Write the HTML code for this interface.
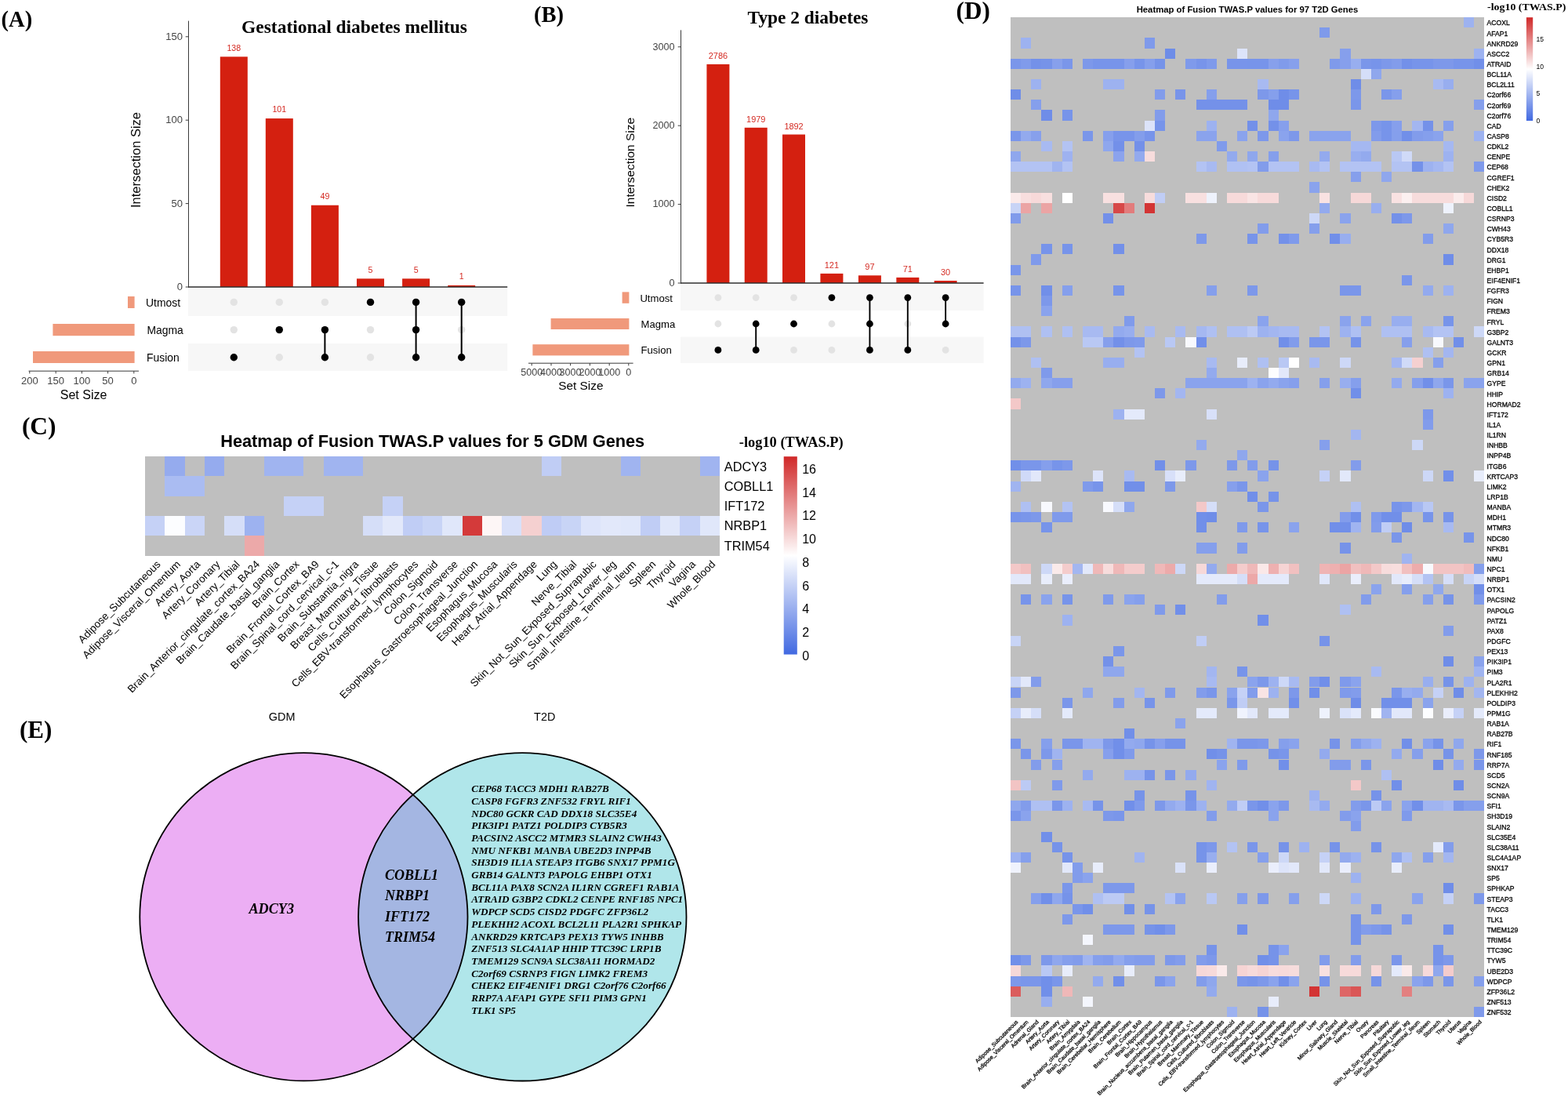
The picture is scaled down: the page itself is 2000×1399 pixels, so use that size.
<!DOCTYPE html>
<html lang="en">
<head>
<meta charset="utf-8">
<title>TWAS overlap of gestational diabetes mellitus and type 2 diabetes genes</title>
<style>
html, body { margin: 0; padding: 0; background: #fff; }
body { width: 2000px; height: 1399px; overflow: hidden; }
svg { display: block; }
.ss { font-family: 'Liberation Sans', sans-serif; }
.sf { font-family: 'Liberation Serif', serif; }
text { white-space: pre; }
</style>
</head>
<body>
<svg width="2000" height="1399" viewBox="0 0 2000 1399" shape-rendering="auto">
<rect x="0" y="0" width="2000" height="1399" fill="#fff"/>
<g id="panelA">
<text x="1.6" y="34" font-size="28.5" class="sf" font-weight="bold">(A)</text>
<text x="452" y="41.6" font-size="23.45" class="sf" font-weight="bold" text-anchor="middle">Gestational diabetes mellitus</text>
<rect x="240.1" y="367.6" width="407.1" height="35.4" fill="#f7f7f7"/>
<rect x="240.1" y="438" width="407.1" height="35.2" fill="#f7f7f7"/>
<rect x="280.8" y="72.34" width="35" height="293.66" fill="#d42010"/>
<text x="298.3" y="64.54" font-size="10.6" class="ss" text-anchor="middle" fill="#d42a22">138</text>
<rect x="338.8" y="151.07" width="35" height="214.93" fill="#d42010"/>
<text x="356.3" y="143.27" font-size="10.6" class="ss" text-anchor="middle" fill="#d42a22">101</text>
<rect x="396.9" y="261.73" width="35" height="104.27" fill="#d42010"/>
<text x="414.4" y="253.93" font-size="10.6" class="ss" text-anchor="middle" fill="#d42a22">49</text>
<rect x="455" y="355.36" width="35" height="10.64" fill="#d42010"/>
<text x="472.5" y="347.56" font-size="10.6" class="ss" text-anchor="middle" fill="#d42a22">5</text>
<rect x="513.1" y="355.36" width="35" height="10.64" fill="#d42010"/>
<text x="530.6" y="347.56" font-size="10.6" class="ss" text-anchor="middle" fill="#d42a22">5</text>
<rect x="571.2" y="363.87" width="35" height="2.13" fill="#d42010"/>
<text x="588.7" y="356.07" font-size="10.6" class="ss" text-anchor="middle" fill="#d42a22">1</text>
<line x1="240.5" y1="26.6" x2="240.5" y2="366.5" stroke="#3a3a3a" stroke-width="1"/>
<line x1="240" y1="366" x2="647.2" y2="366" stroke="#2e2e2e" stroke-width="1.3"/>
<line x1="236.7" y1="366" x2="240.5" y2="366" stroke="#3a3a3a" stroke-width="1"/>
<text x="233" y="370.01" font-size="13" class="ss" text-anchor="end" fill="#444">0</text>
<line x1="236.7" y1="259.6" x2="240.5" y2="259.6" stroke="#3a3a3a" stroke-width="1"/>
<text x="233" y="263.62" font-size="13" class="ss" text-anchor="end" fill="#444">50</text>
<line x1="236.7" y1="153.2" x2="240.5" y2="153.2" stroke="#3a3a3a" stroke-width="1"/>
<text x="233" y="157.22" font-size="13" class="ss" text-anchor="end" fill="#444">100</text>
<line x1="236.7" y1="46.8" x2="240.5" y2="46.8" stroke="#3a3a3a" stroke-width="1"/>
<text x="233" y="50.81" font-size="13" class="ss" text-anchor="end" fill="#444">150</text>
<text x="179.4" y="204" font-size="16.5" class="ss" text-anchor="middle" transform="rotate(-90 179.4 204)">Intersection Size</text>
<circle cx="298.3" cy="385.4" r="4.7" fill="#e3e3e3"/>
<circle cx="298.3" cy="420.6" r="4.7" fill="#e3e3e3"/>
<circle cx="298.3" cy="455.8" r="4.7" fill="#000"/>
<circle cx="356.3" cy="385.4" r="4.7" fill="#e3e3e3"/>
<circle cx="356.3" cy="455.8" r="4.7" fill="#e3e3e3"/>
<circle cx="356.3" cy="420.6" r="4.7" fill="#000"/>
<circle cx="414.4" cy="385.4" r="4.7" fill="#e3e3e3"/>
<line x1="414.4" y1="420.6" x2="414.4" y2="455.8" stroke="#000" stroke-width="2"/>
<circle cx="414.4" cy="420.6" r="4.7" fill="#000"/>
<circle cx="414.4" cy="455.8" r="4.7" fill="#000"/>
<circle cx="472.5" cy="420.6" r="4.7" fill="#e3e3e3"/>
<circle cx="472.5" cy="455.8" r="4.7" fill="#e3e3e3"/>
<circle cx="472.5" cy="385.4" r="4.7" fill="#000"/>
<line x1="530.6" y1="385.4" x2="530.6" y2="455.8" stroke="#000" stroke-width="2"/>
<circle cx="530.6" cy="385.4" r="4.7" fill="#000"/>
<circle cx="530.6" cy="420.6" r="4.7" fill="#000"/>
<circle cx="530.6" cy="455.8" r="4.7" fill="#000"/>
<circle cx="588.7" cy="420.6" r="4.7" fill="#e3e3e3"/>
<line x1="588.7" y1="385.4" x2="588.7" y2="455.8" stroke="#000" stroke-width="2"/>
<circle cx="588.7" cy="385.4" r="4.7" fill="#000"/>
<circle cx="588.7" cy="455.8" r="4.7" fill="#000"/>
<rect x="163" y="378" width="8.6" height="15" fill="#f0997b"/>
<rect x="67.4" y="413" width="104.2" height="15.2" fill="#f0997b"/>
<rect x="42" y="448" width="129.6" height="15" fill="#f0997b"/>
<text x="186" y="390.7" font-size="13.9" class="ss">Utmost</text>
<text x="187.4" y="425.9" font-size="13.9" class="ss">Magma</text>
<text x="187" y="461.1" font-size="13.9" class="ss">Fusion</text>
<line x1="36.6" y1="473.2" x2="177" y2="473.2" stroke="#3a3a3a" stroke-width="1"/>
<line x1="37.8" y1="473.2" x2="37.8" y2="476.4" stroke="#3a3a3a" stroke-width="1"/>
<text x="37.8" y="490.4" font-size="13" class="ss" text-anchor="middle" fill="#444">200</text>
<line x1="71.2" y1="473.2" x2="71.2" y2="476.4" stroke="#3a3a3a" stroke-width="1"/>
<text x="71.2" y="490.4" font-size="13" class="ss" text-anchor="middle" fill="#444">150</text>
<line x1="104.4" y1="473.2" x2="104.4" y2="476.4" stroke="#3a3a3a" stroke-width="1"/>
<text x="104.4" y="490.4" font-size="13" class="ss" text-anchor="middle" fill="#444">100</text>
<line x1="137.6" y1="473.2" x2="137.6" y2="476.4" stroke="#3a3a3a" stroke-width="1"/>
<text x="137.6" y="490.4" font-size="13" class="ss" text-anchor="middle" fill="#444">50</text>
<line x1="170.8" y1="473.2" x2="170.8" y2="476.4" stroke="#3a3a3a" stroke-width="1"/>
<text x="170.8" y="490.4" font-size="13" class="ss" text-anchor="middle" fill="#444">0</text>
<text x="106.6" y="509" font-size="16" class="ss" text-anchor="middle">Set Size</text>
</g>
<g id="panelB">
<text x="681" y="28" font-size="28.6" class="sf" font-weight="bold">(B)</text>
<text x="1030.5" y="30" font-size="23.35" class="sf" font-weight="bold" text-anchor="middle">Type 2 diabetes</text>
<rect x="868.1" y="362.6" width="386.5" height="33.4" fill="#f7f7f7"/>
<rect x="868.1" y="429.6" width="386.5" height="33.6" fill="#f7f7f7"/>
<rect x="901.4" y="81.98" width="29" height="279.02" fill="#d42010"/>
<text x="915.9" y="75.08" font-size="10.9" class="ss" text-anchor="middle" fill="#d42a22">2786</text>
<rect x="949.7" y="162.8" width="29" height="198.2" fill="#d42010"/>
<text x="964.2" y="155.9" font-size="10.9" class="ss" text-anchor="middle" fill="#d42a22">1979</text>
<rect x="998" y="171.52" width="29" height="189.48" fill="#d42010"/>
<text x="1012.5" y="164.62" font-size="10.9" class="ss" text-anchor="middle" fill="#d42a22">1892</text>
<rect x="1046.4" y="348.88" width="29" height="12.12" fill="#d42010"/>
<text x="1060.9" y="341.98" font-size="10.9" class="ss" text-anchor="middle" fill="#d42a22">121</text>
<rect x="1094.9" y="351.29" width="29" height="9.71" fill="#d42010"/>
<text x="1109.4" y="344.39" font-size="10.9" class="ss" text-anchor="middle" fill="#d42a22">97</text>
<rect x="1143.3" y="353.89" width="29" height="7.11" fill="#d42010"/>
<text x="1157.8" y="346.99" font-size="10.9" class="ss" text-anchor="middle" fill="#d42a22">71</text>
<rect x="1191.6" y="358" width="29" height="3" fill="#d42010"/>
<text x="1206.1" y="351.1" font-size="10.9" class="ss" text-anchor="middle" fill="#d42a22">30</text>
<line x1="868.5" y1="38.4" x2="868.5" y2="361.5" stroke="#3a3a3a" stroke-width="1"/>
<line x1="868" y1="361" x2="1254.6" y2="361" stroke="#2e2e2e" stroke-width="1.3"/>
<line x1="864.7" y1="361" x2="868.5" y2="361" stroke="#3a3a3a" stroke-width="1"/>
<text x="860.6" y="364.87" font-size="12.6" class="ss" text-anchor="end" fill="#444">0</text>
<line x1="864.7" y1="260.6" x2="868.5" y2="260.6" stroke="#3a3a3a" stroke-width="1"/>
<text x="860.6" y="264.47" font-size="12.6" class="ss" text-anchor="end" fill="#444">1000</text>
<line x1="864.7" y1="160.2" x2="868.5" y2="160.2" stroke="#3a3a3a" stroke-width="1"/>
<text x="860.6" y="164.07" font-size="12.6" class="ss" text-anchor="end" fill="#444">2000</text>
<line x1="864.7" y1="59.8" x2="868.5" y2="59.8" stroke="#3a3a3a" stroke-width="1"/>
<text x="860.6" y="63.67" font-size="12.6" class="ss" text-anchor="end" fill="#444">3000</text>
<text x="809.3" y="207.2" font-size="15.5" class="ss" text-anchor="middle" transform="rotate(-90 809.3 207.2)">Intersection Size</text>
<circle cx="915.9" cy="379.6" r="4.4" fill="#e3e3e3"/>
<circle cx="915.9" cy="413" r="4.4" fill="#e3e3e3"/>
<circle cx="915.9" cy="446.4" r="4.4" fill="#000"/>
<circle cx="964.2" cy="379.6" r="4.4" fill="#e3e3e3"/>
<line x1="964.2" y1="413" x2="964.2" y2="446.4" stroke="#000" stroke-width="1.9"/>
<circle cx="964.2" cy="413" r="4.4" fill="#000"/>
<circle cx="964.2" cy="446.4" r="4.4" fill="#000"/>
<circle cx="1012.5" cy="379.6" r="4.4" fill="#e3e3e3"/>
<circle cx="1012.5" cy="446.4" r="4.4" fill="#e3e3e3"/>
<circle cx="1012.5" cy="413" r="4.4" fill="#000"/>
<circle cx="1060.9" cy="413" r="4.4" fill="#e3e3e3"/>
<circle cx="1060.9" cy="446.4" r="4.4" fill="#e3e3e3"/>
<circle cx="1060.9" cy="379.6" r="4.4" fill="#000"/>
<line x1="1109.4" y1="379.6" x2="1109.4" y2="446.4" stroke="#000" stroke-width="1.9"/>
<circle cx="1109.4" cy="379.6" r="4.4" fill="#000"/>
<circle cx="1109.4" cy="413" r="4.4" fill="#000"/>
<circle cx="1109.4" cy="446.4" r="4.4" fill="#000"/>
<circle cx="1157.8" cy="413" r="4.4" fill="#e3e3e3"/>
<line x1="1157.8" y1="379.6" x2="1157.8" y2="446.4" stroke="#000" stroke-width="1.9"/>
<circle cx="1157.8" cy="379.6" r="4.4" fill="#000"/>
<circle cx="1157.8" cy="446.4" r="4.4" fill="#000"/>
<circle cx="1206.1" cy="446.4" r="4.4" fill="#e3e3e3"/>
<line x1="1206.1" y1="379.6" x2="1206.1" y2="413" stroke="#000" stroke-width="1.9"/>
<circle cx="1206.1" cy="379.6" r="4.4" fill="#000"/>
<circle cx="1206.1" cy="413" r="4.4" fill="#000"/>
<rect x="793.6" y="372.4" width="8.8" height="14.4" fill="#f0997b"/>
<rect x="702.6" y="406" width="99.8" height="14" fill="#f0997b"/>
<rect x="679.4" y="439.2" width="123" height="14.2" fill="#f0997b"/>
<text x="816.4" y="384.6" font-size="13.1" class="ss">Utmost</text>
<text x="817.6" y="418" font-size="13.1" class="ss">Magma</text>
<text x="817.4" y="451.4" font-size="13.1" class="ss">Fusion</text>
<line x1="674" y1="463.2" x2="807.6" y2="463.2" stroke="#3a3a3a" stroke-width="1"/>
<line x1="678.2" y1="463.2" x2="678.2" y2="466.4" stroke="#3a3a3a" stroke-width="1"/>
<text x="678.2" y="479.1" font-size="12.6" class="ss" text-anchor="middle" fill="#444">5000</text>
<line x1="703" y1="463.2" x2="703" y2="466.4" stroke="#3a3a3a" stroke-width="1"/>
<text x="703" y="479.1" font-size="12.6" class="ss" text-anchor="middle" fill="#444">4000</text>
<line x1="727.6" y1="463.2" x2="727.6" y2="466.4" stroke="#3a3a3a" stroke-width="1"/>
<text x="727.6" y="479.1" font-size="12.6" class="ss" text-anchor="middle" fill="#444">3000</text>
<line x1="752.4" y1="463.2" x2="752.4" y2="466.4" stroke="#3a3a3a" stroke-width="1"/>
<text x="752.4" y="479.1" font-size="12.6" class="ss" text-anchor="middle" fill="#444">2000</text>
<line x1="777.2" y1="463.2" x2="777.2" y2="466.4" stroke="#3a3a3a" stroke-width="1"/>
<text x="777.2" y="479.1" font-size="12.6" class="ss" text-anchor="middle" fill="#444">1000</text>
<line x1="801.8" y1="463.2" x2="801.8" y2="466.4" stroke="#3a3a3a" stroke-width="1"/>
<text x="801.8" y="479.1" font-size="12.6" class="ss" text-anchor="middle" fill="#444">0</text>
<text x="740.8" y="496.9" font-size="15.4" class="ss" text-anchor="middle">Set Size</text>
</g>
<g id="panelC">
<text x="27.9" y="553.8" font-size="31.4" class="sf" font-weight="bold">(C)</text>
<text x="551.7" y="570.4" font-size="21.76" class="ss" font-weight="bold" text-anchor="middle">Heatmap of Fusion TWAS.P values for 5 GDM Genes</text>
<g shape-rendering="crispEdges">
<rect x="185.2" y="582.2" width="732.83" height="126.3" fill="#bfbfbf"/>
<rect x="210.47" y="582.2" width="25.27" height="25.26" fill="#95abee"/>
<rect x="261.01" y="582.2" width="25.27" height="25.26" fill="#95abee"/>
<rect x="336.82" y="582.2" width="50.54" height="25.26" fill="#a0b4f0"/>
<rect x="412.63" y="582.2" width="50.54" height="25.26" fill="#a0b4f0"/>
<rect x="690.6" y="582.2" width="25.27" height="25.26" fill="#c0cdf5"/>
<rect x="791.68" y="582.2" width="25.27" height="25.26" fill="#a0b4f0"/>
<rect x="892.76" y="582.2" width="25.27" height="25.26" fill="#a0b4f0"/>
<rect x="210.47" y="607.46" width="50.54" height="25.26" fill="#aabcf2"/>
<rect x="362.09" y="632.72" width="50.54" height="25.26" fill="#c5d1f6"/>
<rect x="488.44" y="632.72" width="25.27" height="25.26" fill="#c5d1f6"/>
<rect x="185.2" y="657.98" width="25.27" height="25.26" fill="#c5d1f6"/>
<rect x="210.47" y="657.98" width="25.27" height="25.26" fill="#fcfdff"/>
<rect x="235.74" y="657.98" width="25.27" height="25.26" fill="#cad5f7"/>
<rect x="286.28" y="657.98" width="25.27" height="25.26" fill="#d5def8"/>
<rect x="311.55" y="657.98" width="25.27" height="25.26" fill="#9db2f0"/>
<rect x="463.17" y="657.98" width="25.27" height="25.26" fill="#d5def8"/>
<rect x="488.44" y="657.98" width="25.27" height="25.26" fill="#e2e8fa"/>
<rect x="513.71" y="657.98" width="25.27" height="25.26" fill="#c0cdf5"/>
<rect x="538.98" y="657.98" width="25.27" height="25.26" fill="#c8d4f6"/>
<rect x="564.25" y="657.98" width="25.27" height="25.26" fill="#e0e7fa"/>
<rect x="589.52" y="657.98" width="25.27" height="25.26" fill="#d43a3a"/>
<rect x="614.79" y="657.98" width="25.27" height="25.26" fill="#fdf6f6"/>
<rect x="640.06" y="657.98" width="25.27" height="25.26" fill="#d8e0f9"/>
<rect x="665.33" y="657.98" width="25.27" height="25.26" fill="#f5d0d0"/>
<rect x="690.6" y="657.98" width="25.27" height="25.26" fill="#bfccf5"/>
<rect x="715.87" y="657.98" width="25.27" height="25.26" fill="#c8d4f6"/>
<rect x="741.14" y="657.98" width="25.27" height="25.26" fill="#dde4fa"/>
<rect x="766.41" y="657.98" width="25.27" height="25.26" fill="#e2e8fa"/>
<rect x="791.68" y="657.98" width="25.27" height="25.26" fill="#e0e7fa"/>
<rect x="816.95" y="657.98" width="25.27" height="25.26" fill="#c0cdf5"/>
<rect x="842.22" y="657.98" width="25.27" height="25.26" fill="#e0e7fa"/>
<rect x="867.49" y="657.98" width="25.27" height="25.26" fill="#c5d1f6"/>
<rect x="892.76" y="657.98" width="25.27" height="25.26" fill="#e0e7fa"/>
<rect x="311.55" y="683.24" width="25.27" height="25.26" fill="#eca9a9"/>
</g>
<text x="923.8" y="600.62" font-size="16.3" class="ss">ADCY3</text>
<text x="923.8" y="625.88" font-size="16.3" class="ss">COBLL1</text>
<text x="923.8" y="651.14" font-size="16.3" class="ss">IFT172</text>
<text x="923.8" y="676.4" font-size="16.3" class="ss">NRBP1</text>
<text x="923.8" y="701.66" font-size="16.3" class="ss">TRIM54</text>
<text x="205.63" y="720.5" font-size="13.45" class="ss" text-anchor="end" transform="rotate(-45 205.63 720.5)">Adipose_Subcutaneous</text>
<text x="230.91" y="720.5" font-size="13.45" class="ss" text-anchor="end" transform="rotate(-45 230.91 720.5)">Adipose_Visceral_Omentum</text>
<text x="256.18" y="720.5" font-size="13.45" class="ss" text-anchor="end" transform="rotate(-45 256.18 720.5)">Artery_Aorta</text>
<text x="281.44" y="720.5" font-size="13.45" class="ss" text-anchor="end" transform="rotate(-45 281.44 720.5)">Artery_Coronary</text>
<text x="306.71" y="720.5" font-size="13.45" class="ss" text-anchor="end" transform="rotate(-45 306.71 720.5)">Artery_Tibial</text>
<text x="331.98" y="720.5" font-size="13.45" class="ss" text-anchor="end" transform="rotate(-45 331.98 720.5)">Brain_Anterior_cingulate_cortex_BA24</text>
<text x="357.25" y="720.5" font-size="13.45" class="ss" text-anchor="end" transform="rotate(-45 357.25 720.5)">Brain_Caudate_basal_ganglia</text>
<text x="382.53" y="720.5" font-size="13.45" class="ss" text-anchor="end" transform="rotate(-45 382.53 720.5)">Brain_Cortex</text>
<text x="407.8" y="720.5" font-size="13.45" class="ss" text-anchor="end" transform="rotate(-45 407.8 720.5)">Brain_Frontal_Cortex_BA9</text>
<text x="433.06" y="720.5" font-size="13.45" class="ss" text-anchor="end" transform="rotate(-45 433.06 720.5)">Brain_Spinal_cord_cervical_c-1</text>
<text x="458.33" y="720.5" font-size="13.45" class="ss" text-anchor="end" transform="rotate(-45 458.33 720.5)">Brain_Substantia_nigra</text>
<text x="483.61" y="720.5" font-size="13.45" class="ss" text-anchor="end" transform="rotate(-45 483.61 720.5)">Breast_Mammary_Tissue</text>
<text x="508.88" y="720.5" font-size="13.45" class="ss" text-anchor="end" transform="rotate(-45 508.88 720.5)">Cells_Cultured_fibroblasts</text>
<text x="534.14" y="720.5" font-size="13.45" class="ss" text-anchor="end" transform="rotate(-45 534.14 720.5)">Cells_EBV-transformed_lymphocytes</text>
<text x="559.41" y="720.5" font-size="13.45" class="ss" text-anchor="end" transform="rotate(-45 559.41 720.5)">Colon_Sigmoid</text>
<text x="584.68" y="720.5" font-size="13.45" class="ss" text-anchor="end" transform="rotate(-45 584.68 720.5)">Colon_Transverse</text>
<text x="609.95" y="720.5" font-size="13.45" class="ss" text-anchor="end" transform="rotate(-45 609.95 720.5)">Esophagus_Gastroesophageal_Junction</text>
<text x="635.22" y="720.5" font-size="13.45" class="ss" text-anchor="end" transform="rotate(-45 635.22 720.5)">Esophagus_Mucosa</text>
<text x="660.49" y="720.5" font-size="13.45" class="ss" text-anchor="end" transform="rotate(-45 660.49 720.5)">Esophagus_Muscularis</text>
<text x="685.76" y="720.5" font-size="13.45" class="ss" text-anchor="end" transform="rotate(-45 685.76 720.5)">Heart_Atrial_Appendage</text>
<text x="711.03" y="720.5" font-size="13.45" class="ss" text-anchor="end" transform="rotate(-45 711.03 720.5)">Lung</text>
<text x="736.3" y="720.5" font-size="13.45" class="ss" text-anchor="end" transform="rotate(-45 736.3 720.5)">Nerve_Tibial</text>
<text x="761.58" y="720.5" font-size="13.45" class="ss" text-anchor="end" transform="rotate(-45 761.58 720.5)">Skin_Not_Sun_Exposed_Suprapubic</text>
<text x="786.85" y="720.5" font-size="13.45" class="ss" text-anchor="end" transform="rotate(-45 786.85 720.5)">Skin_Sun_Exposed_Lower_leg</text>
<text x="812.12" y="720.5" font-size="13.45" class="ss" text-anchor="end" transform="rotate(-45 812.12 720.5)">Small_Intestine_Terminal_Ileum</text>
<text x="837.38" y="720.5" font-size="13.45" class="ss" text-anchor="end" transform="rotate(-45 837.38 720.5)">Spleen</text>
<text x="862.65" y="720.5" font-size="13.45" class="ss" text-anchor="end" transform="rotate(-45 862.65 720.5)">Thyroid</text>
<text x="887.92" y="720.5" font-size="13.45" class="ss" text-anchor="end" transform="rotate(-45 887.92 720.5)">Vagina</text>
<text x="913.19" y="720.5" font-size="13.45" class="ss" text-anchor="end" transform="rotate(-45 913.19 720.5)">Whole_Blood</text>
<text x="942.8" y="570.4" font-size="18.4" class="sf" font-weight="bold">-log10 (TWAS.P)</text>
<defs><linearGradient id="gC" x1="0" y1="0" x2="0" y2="1"><stop offset="0" stop-color="#d02828"/><stop offset="0.5" stop-color="#fff"/><stop offset="1" stop-color="#4169e1"/></linearGradient></defs>
<rect x="999.7" y="582.2" width="17.1" height="252.4" fill="url(#gC)"/>
<text x="1023.2" y="841.58" font-size="16" class="ss">0</text>
<text x="1023.2" y="811.89" font-size="16" class="ss">2</text>
<text x="1023.2" y="782.19" font-size="16" class="ss">4</text>
<text x="1023.2" y="752.5" font-size="16" class="ss">6</text>
<text x="1023.2" y="722.8" font-size="16" class="ss">8</text>
<text x="1023.2" y="693.11" font-size="16" class="ss">10</text>
<text x="1023.2" y="663.42" font-size="16" class="ss">12</text>
<text x="1023.2" y="633.72" font-size="16" class="ss">14</text>
<text x="1023.2" y="604.03" font-size="16" class="ss">16</text>
</g>
<g id="panelD">
<text x="1219.6" y="24" font-size="31.2" class="sf" font-weight="bold">(D)</text>
<text x="1591" y="16" font-size="11.32" class="ss" font-weight="bold" text-anchor="middle">Heatmap of Fusion TWAS.P values for 97 T2D Genes</text>
<g shape-rendering="crispEdges">
<rect x="1289" y="22.2" width="604.44" height="1274.87" fill="#bfbfbf"/>
<rect x="1867.16" y="22.2" width="13.14" height="13.14" fill="#9db2f0"/>
<rect x="1683.2" y="35.34" width="13.14" height="13.14" fill="#7f9aeb"/>
<rect x="1302.14" y="48.49" width="13.14" height="13.14" fill="#9db2f0"/>
<rect x="1459.82" y="48.49" width="13.14" height="13.14" fill="#7f9aeb"/>
<rect x="1486.1" y="61.63" width="13.14" height="13.14" fill="#6e8de8"/>
<rect x="1578.08" y="61.63" width="13.14" height="13.14" fill="#dde4fa"/>
<rect x="1709.48" y="61.63" width="13.14" height="13.14" fill="#869fec"/>
<rect x="1880.3" y="61.63" width="13.14" height="13.14" fill="#9db2f0"/>
<rect x="1289" y="74.77" width="13.14" height="13.14" fill="#7a96ea"/>
<rect x="1302.14" y="74.77" width="13.14" height="13.14" fill="#809beb"/>
<rect x="1315.28" y="74.77" width="13.14" height="13.14" fill="#7491e9"/>
<rect x="1328.42" y="74.77" width="13.14" height="13.14" fill="#7693e9"/>
<rect x="1341.56" y="74.77" width="13.14" height="13.14" fill="#87a0ec"/>
<rect x="1354.7" y="74.77" width="13.14" height="13.14" fill="#7a96ea"/>
<rect x="1380.98" y="74.77" width="13.14" height="13.14" fill="#7d98ea"/>
<rect x="1394.12" y="74.77" width="39.42" height="13.14" fill="#7794ea"/>
<rect x="1433.54" y="74.77" width="13.14" height="13.14" fill="#869fec"/>
<rect x="1446.68" y="74.77" width="13.14" height="13.14" fill="#7794ea"/>
<rect x="1459.82" y="74.77" width="13.14" height="13.14" fill="#859fec"/>
<rect x="1472.96" y="74.77" width="13.14" height="13.14" fill="#7693e9"/>
<rect x="1512.38" y="74.77" width="13.14" height="13.14" fill="#7f9aeb"/>
<rect x="1525.52" y="74.77" width="13.14" height="13.14" fill="#7894ea"/>
<rect x="1538.66" y="74.77" width="13.14" height="13.14" fill="#7f9aeb"/>
<rect x="1564.94" y="74.77" width="26.28" height="13.14" fill="#7894ea"/>
<rect x="1591.22" y="74.77" width="26.28" height="13.14" fill="#7794ea"/>
<rect x="1617.5" y="74.77" width="13.14" height="13.14" fill="#87a0ec"/>
<rect x="1630.64" y="74.77" width="13.14" height="13.14" fill="#809beb"/>
<rect x="1643.78" y="74.77" width="13.14" height="13.14" fill="#87a0ec"/>
<rect x="1696.34" y="74.77" width="13.14" height="13.14" fill="#7f9aeb"/>
<rect x="1709.48" y="74.77" width="13.14" height="13.14" fill="#869fec"/>
<rect x="1722.62" y="74.77" width="13.14" height="13.14" fill="#98aeef"/>
<rect x="1735.76" y="74.77" width="13.14" height="13.14" fill="#7a96ea"/>
<rect x="1748.9" y="74.77" width="13.14" height="13.14" fill="#7794ea"/>
<rect x="1762.04" y="74.77" width="13.14" height="13.14" fill="#7d98ea"/>
<rect x="1775.18" y="74.77" width="13.14" height="13.14" fill="#829ceb"/>
<rect x="1788.32" y="74.77" width="13.14" height="13.14" fill="#7390e9"/>
<rect x="1801.46" y="74.77" width="26.28" height="13.14" fill="#7794ea"/>
<rect x="1827.74" y="74.77" width="26.28" height="13.14" fill="#7d98ea"/>
<rect x="1854.02" y="74.77" width="26.28" height="13.14" fill="#7794ea"/>
<rect x="1880.3" y="74.77" width="13.14" height="13.14" fill="#718fe9"/>
<rect x="1735.76" y="87.92" width="13.14" height="13.14" fill="#d5def8"/>
<rect x="1748.9" y="87.92" width="13.14" height="13.14" fill="#8fa7ed"/>
<rect x="1315.28" y="101.06" width="13.14" height="13.14" fill="#9db2f0"/>
<rect x="1407.26" y="101.06" width="26.28" height="13.14" fill="#9db2f0"/>
<rect x="1604.36" y="101.06" width="13.14" height="13.14" fill="#a8baf1"/>
<rect x="1722.62" y="101.06" width="13.14" height="13.14" fill="#6f8de8"/>
<rect x="1827.74" y="101.06" width="13.14" height="13.14" fill="#a8baf1"/>
<rect x="1840.88" y="101.06" width="13.14" height="13.14" fill="#98aeef"/>
<rect x="1289" y="114.2" width="13.14" height="13.14" fill="#6f8de8"/>
<rect x="1472.96" y="114.2" width="13.14" height="13.14" fill="#829ceb"/>
<rect x="1499.24" y="114.2" width="13.14" height="13.14" fill="#7894ea"/>
<rect x="1538.66" y="114.2" width="13.14" height="13.14" fill="#859fec"/>
<rect x="1604.36" y="114.2" width="13.14" height="13.14" fill="#7d98ea"/>
<rect x="1617.5" y="114.2" width="13.14" height="13.14" fill="#859fec"/>
<rect x="1630.64" y="114.2" width="13.14" height="13.14" fill="#6f8de8"/>
<rect x="1643.78" y="114.2" width="13.14" height="13.14" fill="#7794ea"/>
<rect x="1722.62" y="114.2" width="13.14" height="13.14" fill="#7d98ea"/>
<rect x="1762.04" y="114.2" width="13.14" height="13.14" fill="#7a96ea"/>
<rect x="1775.18" y="114.2" width="13.14" height="13.14" fill="#859fec"/>
<rect x="1315.28" y="127.34" width="13.14" height="13.14" fill="#859fec"/>
<rect x="1525.52" y="127.34" width="65.7" height="13.14" fill="#7491e9"/>
<rect x="1617.5" y="127.34" width="26.28" height="13.14" fill="#6f8de8"/>
<rect x="1722.62" y="127.34" width="13.14" height="13.14" fill="#7a96ea"/>
<rect x="1880.3" y="127.34" width="13.14" height="13.14" fill="#859fec"/>
<rect x="1328.42" y="140.49" width="13.14" height="13.14" fill="#6f8de8"/>
<rect x="1354.7" y="140.49" width="13.14" height="13.14" fill="#7794ea"/>
<rect x="1472.96" y="140.49" width="13.14" height="13.14" fill="#829ceb"/>
<rect x="1617.5" y="140.49" width="13.14" height="13.14" fill="#8fa7ed"/>
<rect x="1459.82" y="153.63" width="13.14" height="13.14" fill="#dce3f9"/>
<rect x="1472.96" y="153.63" width="13.14" height="13.14" fill="#7794ea"/>
<rect x="1538.66" y="153.63" width="13.14" height="13.14" fill="#9db2f0"/>
<rect x="1591.22" y="153.63" width="13.14" height="13.14" fill="#7390e9"/>
<rect x="1617.5" y="153.63" width="13.14" height="13.14" fill="#7491e9"/>
<rect x="1630.64" y="153.63" width="13.14" height="13.14" fill="#869fec"/>
<rect x="1748.9" y="153.63" width="13.14" height="13.14" fill="#7d98ea"/>
<rect x="1762.04" y="153.63" width="13.14" height="13.14" fill="#7794ea"/>
<rect x="1775.18" y="153.63" width="13.14" height="13.14" fill="#869fec"/>
<rect x="1801.46" y="153.63" width="13.14" height="13.14" fill="#a3b6f0"/>
<rect x="1814.6" y="153.63" width="13.14" height="13.14" fill="#7491e9"/>
<rect x="1840.88" y="153.63" width="13.14" height="13.14" fill="#859fec"/>
<rect x="1289" y="166.77" width="13.14" height="13.14" fill="#7a96ea"/>
<rect x="1302.14" y="166.77" width="13.14" height="13.14" fill="#93aaee"/>
<rect x="1315.28" y="166.77" width="13.14" height="13.14" fill="#87a0ec"/>
<rect x="1380.98" y="166.77" width="13.14" height="13.14" fill="#7a96ea"/>
<rect x="1407.26" y="166.77" width="13.14" height="13.14" fill="#869fec"/>
<rect x="1420.4" y="166.77" width="26.28" height="13.14" fill="#7894ea"/>
<rect x="1446.68" y="166.77" width="13.14" height="13.14" fill="#839deb"/>
<rect x="1459.82" y="166.77" width="13.14" height="13.14" fill="#7894ea"/>
<rect x="1525.52" y="166.77" width="26.28" height="13.14" fill="#8aa3ed"/>
<rect x="1578.08" y="166.77" width="13.14" height="13.14" fill="#8aa3ed"/>
<rect x="1604.36" y="166.77" width="13.14" height="13.14" fill="#7d98ea"/>
<rect x="1630.64" y="166.77" width="13.14" height="13.14" fill="#8aa3ed"/>
<rect x="1643.78" y="166.77" width="13.14" height="13.14" fill="#7d98ea"/>
<rect x="1670.06" y="166.77" width="52.56" height="13.14" fill="#8aa3ed"/>
<rect x="1748.9" y="166.77" width="13.14" height="13.14" fill="#829ceb"/>
<rect x="1762.04" y="166.77" width="13.14" height="13.14" fill="#7794ea"/>
<rect x="1775.18" y="166.77" width="13.14" height="13.14" fill="#859fec"/>
<rect x="1788.32" y="166.77" width="13.14" height="13.14" fill="#718fe9"/>
<rect x="1801.46" y="166.77" width="13.14" height="13.14" fill="#829ceb"/>
<rect x="1814.6" y="166.77" width="13.14" height="13.14" fill="#859fec"/>
<rect x="1827.74" y="166.77" width="13.14" height="13.14" fill="#8aa3ed"/>
<rect x="1880.3" y="166.77" width="13.14" height="13.14" fill="#9db2f0"/>
<rect x="1328.42" y="179.92" width="13.14" height="13.14" fill="#a8baf1"/>
<rect x="1354.7" y="179.92" width="13.14" height="13.14" fill="#b3c3f3"/>
<rect x="1407.26" y="179.92" width="13.14" height="13.14" fill="#8fa7ed"/>
<rect x="1420.4" y="179.92" width="13.14" height="13.14" fill="#7390e9"/>
<rect x="1446.68" y="179.92" width="13.14" height="13.14" fill="#7390e9"/>
<rect x="1551.8" y="179.92" width="13.14" height="13.14" fill="#809beb"/>
<rect x="1722.62" y="179.92" width="26.28" height="13.14" fill="#a5b8f1"/>
<rect x="1840.88" y="179.92" width="13.14" height="13.14" fill="#a5b8f1"/>
<rect x="1289" y="193.06" width="13.14" height="13.14" fill="#8fa7ed"/>
<rect x="1354.7" y="193.06" width="13.14" height="13.14" fill="#9eb2f0"/>
<rect x="1420.4" y="193.06" width="13.14" height="13.14" fill="#8ba3ed"/>
<rect x="1446.68" y="193.06" width="13.14" height="13.14" fill="#93aaee"/>
<rect x="1459.82" y="193.06" width="13.14" height="13.14" fill="#f7dcdc"/>
<rect x="1564.94" y="193.06" width="13.14" height="13.14" fill="#93aaee"/>
<rect x="1591.22" y="193.06" width="13.14" height="13.14" fill="#8fa7ed"/>
<rect x="1617.5" y="193.06" width="13.14" height="13.14" fill="#859fec"/>
<rect x="1683.2" y="193.06" width="13.14" height="13.14" fill="#93aaee"/>
<rect x="1722.62" y="193.06" width="13.14" height="13.14" fill="#98aeef"/>
<rect x="1735.76" y="193.06" width="13.14" height="13.14" fill="#93aaee"/>
<rect x="1775.18" y="193.06" width="13.14" height="13.14" fill="#b9c8f4"/>
<rect x="1788.32" y="193.06" width="13.14" height="13.14" fill="#d0daf8"/>
<rect x="1840.88" y="193.06" width="13.14" height="13.14" fill="#9db2f0"/>
<rect x="1289" y="206.2" width="52.56" height="13.14" fill="#b3c3f3"/>
<rect x="1341.56" y="206.2" width="13.14" height="13.14" fill="#a0b4f0"/>
<rect x="1354.7" y="206.2" width="13.14" height="13.14" fill="#b3c3f3"/>
<rect x="1525.52" y="206.2" width="13.14" height="13.14" fill="#b3c3f3"/>
<rect x="1538.66" y="206.2" width="13.14" height="13.14" fill="#a8baf1"/>
<rect x="1564.94" y="206.2" width="26.28" height="13.14" fill="#b0c1f3"/>
<rect x="1591.22" y="206.2" width="13.14" height="13.14" fill="#b3c3f3"/>
<rect x="1604.36" y="206.2" width="13.14" height="13.14" fill="#829ceb"/>
<rect x="1617.5" y="206.2" width="39.42" height="13.14" fill="#b3c3f3"/>
<rect x="1670.06" y="206.2" width="13.14" height="13.14" fill="#a8baf1"/>
<rect x="1683.2" y="206.2" width="13.14" height="13.14" fill="#b3c3f3"/>
<rect x="1709.48" y="206.2" width="52.56" height="13.14" fill="#b3c3f3"/>
<rect x="1775.18" y="206.2" width="26.28" height="13.14" fill="#b3c3f3"/>
<rect x="1801.46" y="206.2" width="13.14" height="13.14" fill="#7491e9"/>
<rect x="1814.6" y="206.2" width="13.14" height="13.14" fill="#9db2f0"/>
<rect x="1827.74" y="206.2" width="13.14" height="13.14" fill="#a5b8f1"/>
<rect x="1840.88" y="206.2" width="13.14" height="13.14" fill="#b3c3f3"/>
<rect x="1880.3" y="206.2" width="13.14" height="13.14" fill="#7f9aeb"/>
<rect x="1722.62" y="219.34" width="13.14" height="13.14" fill="#869fec"/>
<rect x="1762.04" y="219.34" width="13.14" height="13.14" fill="#8fa7ed"/>
<rect x="1670.06" y="232.49" width="13.14" height="13.14" fill="#8aa3ed"/>
<rect x="1289" y="245.63" width="13.14" height="13.14" fill="#faeaea"/>
<rect x="1302.14" y="245.63" width="13.14" height="13.14" fill="#f8dede"/>
<rect x="1315.28" y="245.63" width="13.14" height="13.14" fill="#f7d9d9"/>
<rect x="1328.42" y="245.63" width="13.14" height="13.14" fill="#f8dfdf"/>
<rect x="1354.7" y="245.63" width="13.14" height="13.14" fill="#ffffff"/>
<rect x="1407.26" y="245.63" width="26.28" height="13.14" fill="#f8e0e0"/>
<rect x="1459.82" y="245.63" width="13.14" height="13.14" fill="#f7dcdc"/>
<rect x="1472.96" y="245.63" width="13.14" height="13.14" fill="#c0cdf5"/>
<rect x="1512.38" y="245.63" width="26.28" height="13.14" fill="#f8e0e0"/>
<rect x="1538.66" y="245.63" width="13.14" height="13.14" fill="#eef2fc"/>
<rect x="1564.94" y="245.63" width="26.28" height="13.14" fill="#f7dada"/>
<rect x="1591.22" y="245.63" width="13.14" height="13.14" fill="#f9e4e4"/>
<rect x="1604.36" y="245.63" width="26.28" height="13.14" fill="#f7dada"/>
<rect x="1683.2" y="245.63" width="13.14" height="13.14" fill="#f9e2e2"/>
<rect x="1722.62" y="245.63" width="26.28" height="13.14" fill="#f6d8d8"/>
<rect x="1775.18" y="245.63" width="13.14" height="13.14" fill="#f9e2e2"/>
<rect x="1788.32" y="245.63" width="13.14" height="13.14" fill="#fcf0f0"/>
<rect x="1801.46" y="245.63" width="52.56" height="13.14" fill="#f7dcdc"/>
<rect x="1854.02" y="245.63" width="13.14" height="13.14" fill="#fbecec"/>
<rect x="1867.16" y="245.63" width="13.14" height="13.14" fill="#f6d8d8"/>
<rect x="1289" y="258.77" width="13.14" height="13.14" fill="#c8d4f6"/>
<rect x="1302.14" y="258.77" width="13.14" height="13.14" fill="#eba4a4"/>
<rect x="1328.42" y="258.77" width="13.14" height="13.14" fill="#eba4a4"/>
<rect x="1420.4" y="258.77" width="13.14" height="13.14" fill="#d74848"/>
<rect x="1433.54" y="258.77" width="13.14" height="13.14" fill="#e27c7c"/>
<rect x="1459.82" y="258.77" width="13.14" height="13.14" fill="#d33434"/>
<rect x="1683.2" y="258.77" width="13.14" height="13.14" fill="#93aaee"/>
<rect x="1748.9" y="258.77" width="13.14" height="13.14" fill="#98aeef"/>
<rect x="1840.88" y="258.77" width="13.14" height="13.14" fill="#eef2fc"/>
<rect x="1289" y="271.92" width="13.14" height="13.14" fill="#809beb"/>
<rect x="1407.26" y="271.92" width="13.14" height="13.14" fill="#7390e9"/>
<rect x="1670.06" y="271.92" width="13.14" height="13.14" fill="#cdd8f7"/>
<rect x="1709.48" y="271.92" width="13.14" height="13.14" fill="#8aa3ed"/>
<rect x="1775.18" y="271.92" width="13.14" height="13.14" fill="#7491e9"/>
<rect x="1788.32" y="271.92" width="13.14" height="13.14" fill="#7d98ea"/>
<rect x="1604.36" y="285.06" width="13.14" height="13.14" fill="#829ceb"/>
<rect x="1670.06" y="285.06" width="13.14" height="13.14" fill="#859fec"/>
<rect x="1840.88" y="285.06" width="13.14" height="13.14" fill="#8fa7ed"/>
<rect x="1525.52" y="298.2" width="13.14" height="13.14" fill="#7d98ea"/>
<rect x="1591.22" y="298.2" width="13.14" height="13.14" fill="#7794ea"/>
<rect x="1630.64" y="298.2" width="13.14" height="13.14" fill="#7491e9"/>
<rect x="1643.78" y="298.2" width="13.14" height="13.14" fill="#7f9aeb"/>
<rect x="1696.34" y="298.2" width="13.14" height="13.14" fill="#718fe9"/>
<rect x="1709.48" y="298.2" width="13.14" height="13.14" fill="#98aeef"/>
<rect x="1814.6" y="298.2" width="13.14" height="13.14" fill="#829ceb"/>
<rect x="1328.42" y="311.35" width="13.14" height="13.14" fill="#7794ea"/>
<rect x="1354.7" y="311.35" width="13.14" height="13.14" fill="#7794ea"/>
<rect x="1420.4" y="311.35" width="13.14" height="13.14" fill="#7390e9"/>
<rect x="1315.28" y="324.49" width="13.14" height="13.14" fill="#7f9aeb"/>
<rect x="1840.88" y="324.49" width="13.14" height="13.14" fill="#6f8de8"/>
<rect x="1289" y="337.63" width="13.14" height="13.14" fill="#7a96ea"/>
<rect x="1788.32" y="350.78" width="13.14" height="13.14" fill="#7a96ea"/>
<rect x="1289" y="363.92" width="13.14" height="13.14" fill="#7794ea"/>
<rect x="1328.42" y="363.92" width="13.14" height="13.14" fill="#718fe9"/>
<rect x="1354.7" y="363.92" width="13.14" height="13.14" fill="#859fec"/>
<rect x="1420.4" y="363.92" width="13.14" height="13.14" fill="#7794ea"/>
<rect x="1538.66" y="363.92" width="13.14" height="13.14" fill="#859fec"/>
<rect x="1591.22" y="363.92" width="13.14" height="13.14" fill="#7d98ea"/>
<rect x="1709.48" y="363.92" width="26.28" height="13.14" fill="#7a96ea"/>
<rect x="1814.6" y="363.92" width="13.14" height="13.14" fill="#93aaee"/>
<rect x="1840.88" y="363.92" width="13.14" height="13.14" fill="#9db2f0"/>
<rect x="1328.42" y="377.06" width="13.14" height="13.14" fill="#7d98ea"/>
<rect x="1328.42" y="390.2" width="13.14" height="13.14" fill="#8aa3ed"/>
<rect x="1433.54" y="403.35" width="13.14" height="13.14" fill="#809beb"/>
<rect x="1604.36" y="403.35" width="13.14" height="13.14" fill="#8aa3ed"/>
<rect x="1709.48" y="403.35" width="13.14" height="13.14" fill="#8aa3ed"/>
<rect x="1735.76" y="403.35" width="13.14" height="13.14" fill="#8aa3ed"/>
<rect x="1775.18" y="403.35" width="26.28" height="13.14" fill="#98aeef"/>
<rect x="1840.88" y="403.35" width="13.14" height="13.14" fill="#7794ea"/>
<rect x="1289" y="416.49" width="26.28" height="13.14" fill="#afc0f2"/>
<rect x="1328.42" y="416.49" width="13.14" height="13.14" fill="#afc0f2"/>
<rect x="1354.7" y="416.49" width="13.14" height="13.14" fill="#afc0f2"/>
<rect x="1380.98" y="416.49" width="26.28" height="13.14" fill="#a8baf1"/>
<rect x="1420.4" y="416.49" width="13.14" height="13.14" fill="#93aaee"/>
<rect x="1433.54" y="416.49" width="13.14" height="13.14" fill="#98aeef"/>
<rect x="1459.82" y="416.49" width="13.14" height="13.14" fill="#a8baf1"/>
<rect x="1499.24" y="416.49" width="13.14" height="13.14" fill="#a8baf1"/>
<rect x="1525.52" y="416.49" width="13.14" height="13.14" fill="#a5b8f1"/>
<rect x="1538.66" y="416.49" width="13.14" height="13.14" fill="#afc0f2"/>
<rect x="1564.94" y="416.49" width="26.28" height="13.14" fill="#afc0f2"/>
<rect x="1591.22" y="416.49" width="13.14" height="13.14" fill="#bccaf4"/>
<rect x="1604.36" y="416.49" width="13.14" height="13.14" fill="#9db2f0"/>
<rect x="1617.5" y="416.49" width="13.14" height="13.14" fill="#a3b6f0"/>
<rect x="1630.64" y="416.49" width="26.28" height="13.14" fill="#a8baf1"/>
<rect x="1683.2" y="416.49" width="13.14" height="13.14" fill="#b3c3f3"/>
<rect x="1709.48" y="416.49" width="13.14" height="13.14" fill="#9db2f0"/>
<rect x="1722.62" y="416.49" width="13.14" height="13.14" fill="#afc0f2"/>
<rect x="1762.04" y="416.49" width="39.42" height="13.14" fill="#afc0f2"/>
<rect x="1814.6" y="416.49" width="13.14" height="13.14" fill="#a8baf1"/>
<rect x="1827.74" y="416.49" width="26.28" height="13.14" fill="#b3c3f3"/>
<rect x="1880.3" y="416.49" width="13.14" height="13.14" fill="#cdd8f7"/>
<rect x="1289" y="429.63" width="13.14" height="13.14" fill="#7491e9"/>
<rect x="1302.14" y="429.63" width="13.14" height="13.14" fill="#7d98ea"/>
<rect x="1380.98" y="429.63" width="26.28" height="13.14" fill="#b9c8f4"/>
<rect x="1407.26" y="429.63" width="13.14" height="13.14" fill="#869fec"/>
<rect x="1420.4" y="429.63" width="13.14" height="13.14" fill="#7390e9"/>
<rect x="1433.54" y="429.63" width="13.14" height="13.14" fill="#7d98ea"/>
<rect x="1446.68" y="429.63" width="13.14" height="13.14" fill="#7f9aeb"/>
<rect x="1486.1" y="429.63" width="13.14" height="13.14" fill="#b9c8f4"/>
<rect x="1512.38" y="429.63" width="13.14" height="13.14" fill="#f8f9fe"/>
<rect x="1525.52" y="429.63" width="13.14" height="13.14" fill="#718fe9"/>
<rect x="1630.64" y="429.63" width="13.14" height="13.14" fill="#718fe9"/>
<rect x="1643.78" y="429.63" width="13.14" height="13.14" fill="#829ceb"/>
<rect x="1670.06" y="429.63" width="26.28" height="13.14" fill="#7a96ea"/>
<rect x="1722.62" y="429.63" width="13.14" height="13.14" fill="#7693e9"/>
<rect x="1788.32" y="429.63" width="13.14" height="13.14" fill="#869fec"/>
<rect x="1827.74" y="429.63" width="13.14" height="13.14" fill="#f8f9fe"/>
<rect x="1854.02" y="429.63" width="13.14" height="13.14" fill="#718fe9"/>
<rect x="1446.68" y="442.78" width="13.14" height="13.14" fill="#b3c3f3"/>
<rect x="1814.6" y="442.78" width="13.14" height="13.14" fill="#afc0f2"/>
<rect x="1840.88" y="442.78" width="13.14" height="13.14" fill="#a3b6f0"/>
<rect x="1315.28" y="455.92" width="13.14" height="13.14" fill="#afc0f2"/>
<rect x="1407.26" y="455.92" width="26.28" height="13.14" fill="#98aeef"/>
<rect x="1538.66" y="455.92" width="13.14" height="13.14" fill="#a8baf1"/>
<rect x="1578.08" y="455.92" width="13.14" height="13.14" fill="#e8edfb"/>
<rect x="1604.36" y="455.92" width="13.14" height="13.14" fill="#afc0f2"/>
<rect x="1630.64" y="455.92" width="13.14" height="13.14" fill="#b9c8f4"/>
<rect x="1643.78" y="455.92" width="13.14" height="13.14" fill="#ffffff"/>
<rect x="1670.06" y="455.92" width="13.14" height="13.14" fill="#a8baf1"/>
<rect x="1709.48" y="455.92" width="13.14" height="13.14" fill="#cdd8f7"/>
<rect x="1775.18" y="455.92" width="13.14" height="13.14" fill="#a3b6f0"/>
<rect x="1788.32" y="455.92" width="13.14" height="13.14" fill="#d0daf8"/>
<rect x="1801.46" y="455.92" width="13.14" height="13.14" fill="#f5d0d0"/>
<rect x="1827.74" y="455.92" width="13.14" height="13.14" fill="#859fec"/>
<rect x="1328.42" y="469.06" width="13.14" height="13.14" fill="#7f9aeb"/>
<rect x="1538.66" y="469.06" width="13.14" height="13.14" fill="#93aaee"/>
<rect x="1617.5" y="469.06" width="13.14" height="13.14" fill="#fcfdff"/>
<rect x="1630.64" y="469.06" width="13.14" height="13.14" fill="#e2e8fa"/>
<rect x="1289" y="482.2" width="13.14" height="13.14" fill="#93aaee"/>
<rect x="1302.14" y="482.2" width="13.14" height="13.14" fill="#9db2f0"/>
<rect x="1328.42" y="482.2" width="13.14" height="13.14" fill="#8fa7ed"/>
<rect x="1341.56" y="482.2" width="26.28" height="13.14" fill="#869fec"/>
<rect x="1512.38" y="482.2" width="78.84" height="13.14" fill="#8aa3ed"/>
<rect x="1591.22" y="482.2" width="13.14" height="13.14" fill="#9db2f0"/>
<rect x="1604.36" y="482.2" width="13.14" height="13.14" fill="#8aa3ed"/>
<rect x="1617.5" y="482.2" width="13.14" height="13.14" fill="#93aaee"/>
<rect x="1630.64" y="482.2" width="13.14" height="13.14" fill="#8aa3ed"/>
<rect x="1643.78" y="482.2" width="13.14" height="13.14" fill="#869fec"/>
<rect x="1683.2" y="482.2" width="13.14" height="13.14" fill="#859fec"/>
<rect x="1709.48" y="482.2" width="13.14" height="13.14" fill="#98aeef"/>
<rect x="1722.62" y="482.2" width="13.14" height="13.14" fill="#859fec"/>
<rect x="1775.18" y="482.2" width="13.14" height="13.14" fill="#93aaee"/>
<rect x="1801.46" y="482.2" width="13.14" height="13.14" fill="#859fec"/>
<rect x="1814.6" y="482.2" width="13.14" height="13.14" fill="#718fe9"/>
<rect x="1827.74" y="482.2" width="13.14" height="13.14" fill="#8fa7ed"/>
<rect x="1840.88" y="482.2" width="13.14" height="13.14" fill="#7a96ea"/>
<rect x="1867.16" y="482.2" width="26.28" height="13.14" fill="#8aa3ed"/>
<rect x="1472.96" y="495.35" width="13.14" height="13.14" fill="#7d98ea"/>
<rect x="1499.24" y="495.35" width="13.14" height="13.14" fill="#a3b6f0"/>
<rect x="1722.62" y="495.35" width="13.14" height="13.14" fill="#718fe9"/>
<rect x="1840.88" y="495.35" width="13.14" height="13.14" fill="#9db2f0"/>
<rect x="1289" y="508.49" width="13.14" height="13.14" fill="#f3c8c8"/>
<rect x="1420.4" y="521.63" width="13.14" height="13.14" fill="#9db2f0"/>
<rect x="1433.54" y="521.63" width="26.28" height="13.14" fill="#e4eafb"/>
<rect x="1538.66" y="521.63" width="13.14" height="13.14" fill="#d8e0f9"/>
<rect x="1814.6" y="521.63" width="13.14" height="13.14" fill="#7d98ea"/>
<rect x="1814.6" y="534.78" width="13.14" height="13.14" fill="#829ceb"/>
<rect x="1722.62" y="547.92" width="13.14" height="13.14" fill="#a3b6f0"/>
<rect x="1525.52" y="561.06" width="13.14" height="13.14" fill="#93aaee"/>
<rect x="1683.2" y="561.06" width="13.14" height="13.14" fill="#859fec"/>
<rect x="1801.46" y="561.06" width="13.14" height="13.14" fill="#cdd8f7"/>
<rect x="1578.08" y="574.21" width="13.14" height="13.14" fill="#8fa7ed"/>
<rect x="1289" y="587.35" width="13.14" height="13.14" fill="#718fe9"/>
<rect x="1302.14" y="587.35" width="26.28" height="13.14" fill="#7a96ea"/>
<rect x="1328.42" y="587.35" width="13.14" height="13.14" fill="#859fec"/>
<rect x="1341.56" y="587.35" width="13.14" height="13.14" fill="#7794ea"/>
<rect x="1354.7" y="587.35" width="13.14" height="13.14" fill="#7d98ea"/>
<rect x="1472.96" y="587.35" width="13.14" height="13.14" fill="#718fe9"/>
<rect x="1512.38" y="587.35" width="13.14" height="13.14" fill="#7d98ea"/>
<rect x="1564.94" y="587.35" width="13.14" height="13.14" fill="#7d98ea"/>
<rect x="1591.22" y="587.35" width="13.14" height="13.14" fill="#829ceb"/>
<rect x="1617.5" y="587.35" width="13.14" height="13.14" fill="#7693e9"/>
<rect x="1722.62" y="587.35" width="13.14" height="13.14" fill="#829ceb"/>
<rect x="1302.14" y="600.49" width="13.14" height="13.14" fill="#d0daf8"/>
<rect x="1315.28" y="600.49" width="13.14" height="13.14" fill="#e2e8fa"/>
<rect x="1394.12" y="600.49" width="13.14" height="13.14" fill="#dde4fa"/>
<rect x="1433.54" y="600.49" width="13.14" height="13.14" fill="#a8baf1"/>
<rect x="1486.1" y="600.49" width="13.14" height="13.14" fill="#d8e0f9"/>
<rect x="1499.24" y="600.49" width="13.14" height="13.14" fill="#e8edfb"/>
<rect x="1604.36" y="600.49" width="13.14" height="13.14" fill="#8aa3ed"/>
<rect x="1683.2" y="600.49" width="13.14" height="13.14" fill="#c5d1f6"/>
<rect x="1709.48" y="600.49" width="13.14" height="13.14" fill="#e2e8fa"/>
<rect x="1814.6" y="600.49" width="13.14" height="13.14" fill="#cdd8f7"/>
<rect x="1840.88" y="600.49" width="13.14" height="13.14" fill="#718fe9"/>
<rect x="1880.3" y="600.49" width="13.14" height="13.14" fill="#e8edfb"/>
<rect x="1289" y="613.64" width="13.14" height="13.14" fill="#a0b4f0"/>
<rect x="1380.98" y="613.64" width="13.14" height="13.14" fill="#7f9aeb"/>
<rect x="1394.12" y="613.64" width="13.14" height="13.14" fill="#7794ea"/>
<rect x="1433.54" y="613.64" width="26.28" height="13.14" fill="#718fe9"/>
<rect x="1486.1" y="613.64" width="13.14" height="13.14" fill="#7d98ea"/>
<rect x="1564.94" y="613.64" width="13.14" height="13.14" fill="#869fec"/>
<rect x="1578.08" y="613.64" width="13.14" height="13.14" fill="#7a96ea"/>
<rect x="1591.22" y="626.78" width="13.14" height="13.14" fill="#718fe9"/>
<rect x="1617.5" y="626.78" width="13.14" height="13.14" fill="#7693e9"/>
<rect x="1302.14" y="639.92" width="13.14" height="13.14" fill="#afc0f2"/>
<rect x="1328.42" y="639.92" width="13.14" height="13.14" fill="#f8f9fe"/>
<rect x="1354.7" y="639.92" width="13.14" height="13.14" fill="#b3c3f3"/>
<rect x="1407.26" y="639.92" width="13.14" height="13.14" fill="#f8f9fe"/>
<rect x="1420.4" y="639.92" width="13.14" height="13.14" fill="#d5def8"/>
<rect x="1433.54" y="639.92" width="13.14" height="13.14" fill="#8fa7ed"/>
<rect x="1525.52" y="639.92" width="13.14" height="13.14" fill="#f3c8c8"/>
<rect x="1538.66" y="639.92" width="13.14" height="13.14" fill="#d5def8"/>
<rect x="1604.36" y="639.92" width="13.14" height="13.14" fill="#7a96ea"/>
<rect x="1722.62" y="639.92" width="13.14" height="13.14" fill="#afc0f2"/>
<rect x="1775.18" y="639.92" width="13.14" height="13.14" fill="#7794ea"/>
<rect x="1788.32" y="639.92" width="13.14" height="13.14" fill="#7d98ea"/>
<rect x="1801.46" y="639.92" width="13.14" height="13.14" fill="#a3b6f0"/>
<rect x="1814.6" y="639.92" width="13.14" height="13.14" fill="#b9c8f4"/>
<rect x="1289" y="653.06" width="13.14" height="13.14" fill="#7794ea"/>
<rect x="1302.14" y="653.06" width="13.14" height="13.14" fill="#7a96ea"/>
<rect x="1315.28" y="653.06" width="13.14" height="13.14" fill="#7d98ea"/>
<rect x="1341.56" y="653.06" width="26.28" height="13.14" fill="#7f9aeb"/>
<rect x="1525.52" y="653.06" width="13.14" height="13.14" fill="#718fe9"/>
<rect x="1538.66" y="653.06" width="13.14" height="13.14" fill="#6f8de8"/>
<rect x="1709.48" y="653.06" width="13.14" height="13.14" fill="#829ceb"/>
<rect x="1722.62" y="653.06" width="13.14" height="13.14" fill="#718fe9"/>
<rect x="1748.9" y="653.06" width="13.14" height="13.14" fill="#7f9aeb"/>
<rect x="1762.04" y="653.06" width="26.28" height="13.14" fill="#718fe9"/>
<rect x="1814.6" y="653.06" width="13.14" height="13.14" fill="#7794ea"/>
<rect x="1840.88" y="653.06" width="13.14" height="13.14" fill="#7693e9"/>
<rect x="1328.42" y="666.21" width="13.14" height="13.14" fill="#7794ea"/>
<rect x="1525.52" y="666.21" width="13.14" height="13.14" fill="#718fe9"/>
<rect x="1578.08" y="666.21" width="13.14" height="13.14" fill="#7f9aeb"/>
<rect x="1604.36" y="666.21" width="13.14" height="13.14" fill="#7794ea"/>
<rect x="1643.78" y="666.21" width="13.14" height="13.14" fill="#8aa3ed"/>
<rect x="1696.34" y="666.21" width="26.28" height="13.14" fill="#718fe9"/>
<rect x="1722.62" y="666.21" width="13.14" height="13.14" fill="#a0b4f0"/>
<rect x="1748.9" y="666.21" width="13.14" height="13.14" fill="#829ceb"/>
<rect x="1762.04" y="666.21" width="13.14" height="13.14" fill="#c0cdf5"/>
<rect x="1788.32" y="666.21" width="13.14" height="13.14" fill="#6f8de8"/>
<rect x="1840.88" y="666.21" width="13.14" height="13.14" fill="#a8baf1"/>
<rect x="1775.18" y="679.35" width="13.14" height="13.14" fill="#7a96ea"/>
<rect x="1867.16" y="679.35" width="13.14" height="13.14" fill="#7794ea"/>
<rect x="1525.52" y="692.49" width="26.28" height="13.14" fill="#859fec"/>
<rect x="1578.08" y="692.49" width="13.14" height="13.14" fill="#829ceb"/>
<rect x="1709.48" y="692.49" width="13.14" height="13.14" fill="#7693e9"/>
<rect x="1788.32" y="705.64" width="13.14" height="13.14" fill="#a0b4f0"/>
<rect x="1289" y="718.78" width="13.14" height="13.14" fill="#f3c8c8"/>
<rect x="1302.14" y="718.78" width="13.14" height="13.14" fill="#f1c0c0"/>
<rect x="1328.42" y="718.78" width="13.14" height="13.14" fill="#cdd8f7"/>
<rect x="1341.56" y="718.78" width="13.14" height="13.14" fill="#faeaea"/>
<rect x="1354.7" y="718.78" width="13.14" height="13.14" fill="#f4cccc"/>
<rect x="1367.84" y="718.78" width="13.14" height="13.14" fill="#a3b6f0"/>
<rect x="1380.98" y="718.78" width="13.14" height="13.14" fill="#e2e8fa"/>
<rect x="1394.12" y="718.78" width="13.14" height="13.14" fill="#efb8b8"/>
<rect x="1407.26" y="718.78" width="13.14" height="13.14" fill="#f7dcdc"/>
<rect x="1420.4" y="718.78" width="13.14" height="13.14" fill="#efb8b8"/>
<rect x="1433.54" y="718.78" width="26.28" height="13.14" fill="#f4cccc"/>
<rect x="1472.96" y="718.78" width="13.14" height="13.14" fill="#efb8b8"/>
<rect x="1486.1" y="718.78" width="13.14" height="13.14" fill="#ecaaaa"/>
<rect x="1499.24" y="718.78" width="13.14" height="13.14" fill="#cdd8f7"/>
<rect x="1525.52" y="718.78" width="13.14" height="13.14" fill="#f6d8d8"/>
<rect x="1538.66" y="718.78" width="13.14" height="13.14" fill="#93aaee"/>
<rect x="1564.94" y="718.78" width="13.14" height="13.14" fill="#ecaaaa"/>
<rect x="1578.08" y="718.78" width="13.14" height="13.14" fill="#f4cccc"/>
<rect x="1591.22" y="718.78" width="13.14" height="13.14" fill="#efb8b8"/>
<rect x="1604.36" y="718.78" width="13.14" height="13.14" fill="#fae8e8"/>
<rect x="1617.5" y="718.78" width="13.14" height="13.14" fill="#eeb0b0"/>
<rect x="1630.64" y="718.78" width="13.14" height="13.14" fill="#f6d4d4"/>
<rect x="1643.78" y="718.78" width="13.14" height="13.14" fill="#f1c0c0"/>
<rect x="1683.2" y="718.78" width="13.14" height="13.14" fill="#efb4b4"/>
<rect x="1696.34" y="718.78" width="13.14" height="13.14" fill="#eeb0b0"/>
<rect x="1709.48" y="718.78" width="13.14" height="13.14" fill="#eba4a4"/>
<rect x="1722.62" y="718.78" width="13.14" height="13.14" fill="#f1c0c0"/>
<rect x="1735.76" y="718.78" width="13.14" height="13.14" fill="#efb8b8"/>
<rect x="1748.9" y="718.78" width="13.14" height="13.14" fill="#f3c8c8"/>
<rect x="1762.04" y="718.78" width="13.14" height="13.14" fill="#f7dcdc"/>
<rect x="1775.18" y="718.78" width="13.14" height="13.14" fill="#f8dede"/>
<rect x="1788.32" y="718.78" width="13.14" height="13.14" fill="#f1c0c0"/>
<rect x="1801.46" y="718.78" width="13.14" height="13.14" fill="#edacac"/>
<rect x="1814.6" y="718.78" width="13.14" height="13.14" fill="#f8f9fe"/>
<rect x="1827.74" y="718.78" width="39.42" height="13.14" fill="#f2c4c4"/>
<rect x="1867.16" y="718.78" width="13.14" height="13.14" fill="#f0bcbc"/>
<rect x="1880.3" y="718.78" width="13.14" height="13.14" fill="#859fec"/>
<rect x="1289" y="731.92" width="26.28" height="13.14" fill="#e2e8fa"/>
<rect x="1328.42" y="731.92" width="13.14" height="13.14" fill="#e8edfb"/>
<rect x="1354.7" y="731.92" width="13.14" height="13.14" fill="#eaeefc"/>
<rect x="1525.52" y="731.92" width="52.56" height="13.14" fill="#e4eafb"/>
<rect x="1578.08" y="731.92" width="13.14" height="13.14" fill="#d5def8"/>
<rect x="1591.22" y="731.92" width="13.14" height="13.14" fill="#eca8a8"/>
<rect x="1604.36" y="731.92" width="39.42" height="13.14" fill="#e4eafb"/>
<rect x="1683.2" y="731.92" width="13.14" height="13.14" fill="#e0e7fa"/>
<rect x="1722.62" y="731.92" width="13.14" height="13.14" fill="#eaeefc"/>
<rect x="1775.18" y="731.92" width="13.14" height="13.14" fill="#e2e8fa"/>
<rect x="1788.32" y="731.92" width="13.14" height="13.14" fill="#e8edfb"/>
<rect x="1801.46" y="731.92" width="13.14" height="13.14" fill="#d5def8"/>
<rect x="1814.6" y="731.92" width="13.14" height="13.14" fill="#b3c3f3"/>
<rect x="1840.88" y="731.92" width="13.14" height="13.14" fill="#d5def8"/>
<rect x="1867.16" y="731.92" width="13.14" height="13.14" fill="#c8d4f6"/>
<rect x="1880.3" y="731.92" width="13.14" height="13.14" fill="#d5def8"/>
<rect x="1748.9" y="745.07" width="13.14" height="13.14" fill="#8aa3ed"/>
<rect x="1788.32" y="745.07" width="13.14" height="13.14" fill="#859fec"/>
<rect x="1827.74" y="745.07" width="13.14" height="13.14" fill="#8fa7ed"/>
<rect x="1880.3" y="745.07" width="13.14" height="13.14" fill="#718fe9"/>
<rect x="1302.14" y="758.21" width="13.14" height="13.14" fill="#7794ea"/>
<rect x="1328.42" y="758.21" width="13.14" height="13.14" fill="#8aa3ed"/>
<rect x="1354.7" y="758.21" width="13.14" height="13.14" fill="#7794ea"/>
<rect x="1407.26" y="758.21" width="13.14" height="13.14" fill="#7f9aeb"/>
<rect x="1433.54" y="758.21" width="13.14" height="13.14" fill="#8aa3ed"/>
<rect x="1446.68" y="758.21" width="13.14" height="13.14" fill="#859fec"/>
<rect x="1551.8" y="758.21" width="13.14" height="13.14" fill="#829ceb"/>
<rect x="1735.76" y="758.21" width="13.14" height="13.14" fill="#829ceb"/>
<rect x="1814.6" y="758.21" width="13.14" height="13.14" fill="#859fec"/>
<rect x="1840.88" y="758.21" width="13.14" height="13.14" fill="#7693e9"/>
<rect x="1880.3" y="758.21" width="13.14" height="13.14" fill="#7f9aeb"/>
<rect x="1472.96" y="771.35" width="13.14" height="13.14" fill="#7f9aeb"/>
<rect x="1499.24" y="771.35" width="13.14" height="13.14" fill="#718fe9"/>
<rect x="1709.48" y="771.35" width="13.14" height="13.14" fill="#afc0f2"/>
<rect x="1354.7" y="784.49" width="13.14" height="13.14" fill="#9db2f0"/>
<rect x="1604.36" y="784.49" width="13.14" height="13.14" fill="#718fe9"/>
<rect x="1840.88" y="797.64" width="13.14" height="13.14" fill="#829ceb"/>
<rect x="1289" y="810.78" width="13.14" height="13.14" fill="#c8d4f6"/>
<rect x="1525.52" y="810.78" width="13.14" height="13.14" fill="#c0cdf5"/>
<rect x="1683.2" y="810.78" width="13.14" height="13.14" fill="#7693e9"/>
<rect x="1420.4" y="823.92" width="13.14" height="13.14" fill="#7a96ea"/>
<rect x="1407.26" y="837.07" width="13.14" height="13.14" fill="#7491e9"/>
<rect x="1840.88" y="837.07" width="13.14" height="13.14" fill="#6f8de8"/>
<rect x="1880.3" y="837.07" width="13.14" height="13.14" fill="#8aa3ed"/>
<rect x="1407.26" y="850.21" width="26.28" height="13.14" fill="#8fa7ed"/>
<rect x="1538.66" y="850.21" width="13.14" height="13.14" fill="#a3b6f0"/>
<rect x="1578.08" y="850.21" width="13.14" height="13.14" fill="#7794ea"/>
<rect x="1748.9" y="850.21" width="13.14" height="13.14" fill="#a8baf1"/>
<rect x="1880.3" y="850.21" width="13.14" height="13.14" fill="#a0b4f0"/>
<rect x="1289" y="863.35" width="13.14" height="13.14" fill="#c8d4f6"/>
<rect x="1302.14" y="863.35" width="13.14" height="13.14" fill="#e2e8fa"/>
<rect x="1315.28" y="863.35" width="13.14" height="13.14" fill="#829ceb"/>
<rect x="1538.66" y="863.35" width="13.14" height="13.14" fill="#a8baf1"/>
<rect x="1591.22" y="863.35" width="13.14" height="13.14" fill="#8aa3ed"/>
<rect x="1604.36" y="863.35" width="13.14" height="13.14" fill="#7d98ea"/>
<rect x="1617.5" y="863.35" width="13.14" height="13.14" fill="#9db2f0"/>
<rect x="1630.64" y="863.35" width="13.14" height="13.14" fill="#cdd8f7"/>
<rect x="1643.78" y="863.35" width="13.14" height="13.14" fill="#a8baf1"/>
<rect x="1670.06" y="863.35" width="13.14" height="13.14" fill="#829ceb"/>
<rect x="1683.2" y="863.35" width="13.14" height="13.14" fill="#718fe9"/>
<rect x="1709.48" y="863.35" width="13.14" height="13.14" fill="#7f9aeb"/>
<rect x="1722.62" y="863.35" width="13.14" height="13.14" fill="#8aa3ed"/>
<rect x="1814.6" y="863.35" width="13.14" height="13.14" fill="#98aeef"/>
<rect x="1840.88" y="863.35" width="13.14" height="13.14" fill="#7693e9"/>
<rect x="1867.16" y="863.35" width="13.14" height="13.14" fill="#9db2f0"/>
<rect x="1289" y="876.5" width="13.14" height="13.14" fill="#7d98ea"/>
<rect x="1380.98" y="876.5" width="13.14" height="13.14" fill="#8fa7ed"/>
<rect x="1446.68" y="876.5" width="13.14" height="13.14" fill="#a3b6f0"/>
<rect x="1486.1" y="876.5" width="13.14" height="13.14" fill="#7f9aeb"/>
<rect x="1525.52" y="876.5" width="13.14" height="13.14" fill="#829ceb"/>
<rect x="1538.66" y="876.5" width="13.14" height="13.14" fill="#7a96ea"/>
<rect x="1564.94" y="876.5" width="13.14" height="13.14" fill="#8aa3ed"/>
<rect x="1578.08" y="876.5" width="13.14" height="13.14" fill="#c5d1f6"/>
<rect x="1591.22" y="876.5" width="13.14" height="13.14" fill="#829ceb"/>
<rect x="1604.36" y="876.5" width="13.14" height="13.14" fill="#f9e4e4"/>
<rect x="1617.5" y="876.5" width="13.14" height="13.14" fill="#9db2f0"/>
<rect x="1643.78" y="876.5" width="13.14" height="13.14" fill="#7d98ea"/>
<rect x="1670.06" y="876.5" width="13.14" height="13.14" fill="#718fe9"/>
<rect x="1709.48" y="876.5" width="13.14" height="13.14" fill="#7f9aeb"/>
<rect x="1722.62" y="876.5" width="13.14" height="13.14" fill="#829ceb"/>
<rect x="1775.18" y="876.5" width="13.14" height="13.14" fill="#7a96ea"/>
<rect x="1788.32" y="876.5" width="13.14" height="13.14" fill="#98aeef"/>
<rect x="1801.46" y="876.5" width="13.14" height="13.14" fill="#93aaee"/>
<rect x="1827.74" y="876.5" width="13.14" height="13.14" fill="#c5d1f6"/>
<rect x="1854.02" y="876.5" width="13.14" height="13.14" fill="#6f8de8"/>
<rect x="1880.3" y="876.5" width="13.14" height="13.14" fill="#a3b6f0"/>
<rect x="1354.7" y="889.64" width="13.14" height="13.14" fill="#7a96ea"/>
<rect x="1420.4" y="889.64" width="13.14" height="13.14" fill="#829ceb"/>
<rect x="1459.82" y="889.64" width="13.14" height="13.14" fill="#7794ea"/>
<rect x="1564.94" y="889.64" width="13.14" height="13.14" fill="#7a96ea"/>
<rect x="1578.08" y="889.64" width="13.14" height="13.14" fill="#c0cdf5"/>
<rect x="1643.78" y="889.64" width="13.14" height="13.14" fill="#718fe9"/>
<rect x="1722.62" y="889.64" width="13.14" height="13.14" fill="#6f8de8"/>
<rect x="1762.04" y="889.64" width="39.42" height="13.14" fill="#718fe9"/>
<rect x="1814.6" y="889.64" width="13.14" height="13.14" fill="#8aa3ed"/>
<rect x="1289" y="902.78" width="13.14" height="13.14" fill="#c5d1f6"/>
<rect x="1302.14" y="902.78" width="13.14" height="13.14" fill="#e8edfb"/>
<rect x="1315.28" y="902.78" width="13.14" height="13.14" fill="#d5def8"/>
<rect x="1354.7" y="902.78" width="13.14" height="13.14" fill="#e4eafb"/>
<rect x="1525.52" y="902.78" width="26.28" height="13.14" fill="#e4eafb"/>
<rect x="1578.08" y="902.78" width="13.14" height="13.14" fill="#f0f3fd"/>
<rect x="1591.22" y="902.78" width="13.14" height="13.14" fill="#e2e8fa"/>
<rect x="1617.5" y="902.78" width="26.28" height="13.14" fill="#e4eafb"/>
<rect x="1683.2" y="902.78" width="13.14" height="13.14" fill="#eef2fc"/>
<rect x="1709.48" y="902.78" width="13.14" height="13.14" fill="#dae2f9"/>
<rect x="1722.62" y="902.78" width="13.14" height="13.14" fill="#e4eafb"/>
<rect x="1748.9" y="902.78" width="13.14" height="13.14" fill="#fafbfe"/>
<rect x="1762.04" y="902.78" width="13.14" height="13.14" fill="#a0b4f0"/>
<rect x="1775.18" y="902.78" width="26.28" height="13.14" fill="#e2e8fa"/>
<rect x="1814.6" y="902.78" width="13.14" height="13.14" fill="#fcfdff"/>
<rect x="1840.88" y="902.78" width="13.14" height="13.14" fill="#eaeefc"/>
<rect x="1854.02" y="902.78" width="13.14" height="13.14" fill="#c5d1f6"/>
<rect x="1880.3" y="902.78" width="13.14" height="13.14" fill="#e4eafb"/>
<rect x="1499.24" y="915.92" width="13.14" height="13.14" fill="#8aa3ed"/>
<rect x="1433.54" y="929.07" width="13.14" height="13.14" fill="#718fe9"/>
<rect x="1289" y="942.21" width="13.14" height="13.14" fill="#7a96ea"/>
<rect x="1328.42" y="942.21" width="13.14" height="13.14" fill="#859fec"/>
<rect x="1354.7" y="942.21" width="26.28" height="13.14" fill="#7a96ea"/>
<rect x="1380.98" y="942.21" width="26.28" height="13.14" fill="#a0b4f0"/>
<rect x="1407.26" y="942.21" width="13.14" height="13.14" fill="#7d98ea"/>
<rect x="1420.4" y="942.21" width="13.14" height="13.14" fill="#718fe9"/>
<rect x="1433.54" y="942.21" width="13.14" height="13.14" fill="#93aaee"/>
<rect x="1446.68" y="942.21" width="13.14" height="13.14" fill="#8fa7ed"/>
<rect x="1459.82" y="942.21" width="13.14" height="13.14" fill="#7693e9"/>
<rect x="1472.96" y="942.21" width="13.14" height="13.14" fill="#869fec"/>
<rect x="1486.1" y="942.21" width="26.28" height="13.14" fill="#7693e9"/>
<rect x="1564.94" y="942.21" width="13.14" height="13.14" fill="#a0b4f0"/>
<rect x="1578.08" y="942.21" width="26.28" height="13.14" fill="#7a96ea"/>
<rect x="1604.36" y="942.21" width="13.14" height="13.14" fill="#7d98ea"/>
<rect x="1630.64" y="942.21" width="13.14" height="13.14" fill="#859fec"/>
<rect x="1643.78" y="942.21" width="13.14" height="13.14" fill="#8aa3ed"/>
<rect x="1696.34" y="942.21" width="13.14" height="13.14" fill="#7693e9"/>
<rect x="1722.62" y="942.21" width="13.14" height="13.14" fill="#859fec"/>
<rect x="1735.76" y="942.21" width="13.14" height="13.14" fill="#93aaee"/>
<rect x="1748.9" y="942.21" width="13.14" height="13.14" fill="#9db2f0"/>
<rect x="1788.32" y="942.21" width="13.14" height="13.14" fill="#718fe9"/>
<rect x="1814.6" y="942.21" width="13.14" height="13.14" fill="#8aa3ed"/>
<rect x="1827.74" y="942.21" width="13.14" height="13.14" fill="#7693e9"/>
<rect x="1854.02" y="942.21" width="13.14" height="13.14" fill="#8fa7ed"/>
<rect x="1302.14" y="955.35" width="13.14" height="13.14" fill="#7a96ea"/>
<rect x="1328.42" y="955.35" width="13.14" height="13.14" fill="#7d98ea"/>
<rect x="1341.56" y="955.35" width="13.14" height="13.14" fill="#a0b4f0"/>
<rect x="1407.26" y="955.35" width="13.14" height="13.14" fill="#869fec"/>
<rect x="1420.4" y="955.35" width="13.14" height="13.14" fill="#718fe9"/>
<rect x="1433.54" y="955.35" width="13.14" height="13.14" fill="#7f9aeb"/>
<rect x="1538.66" y="955.35" width="13.14" height="13.14" fill="#718fe9"/>
<rect x="1551.8" y="955.35" width="13.14" height="13.14" fill="#7693e9"/>
<rect x="1617.5" y="955.35" width="13.14" height="13.14" fill="#7693e9"/>
<rect x="1630.64" y="955.35" width="13.14" height="13.14" fill="#7a96ea"/>
<rect x="1683.2" y="955.35" width="13.14" height="13.14" fill="#93aaee"/>
<rect x="1775.18" y="955.35" width="13.14" height="13.14" fill="#93aaee"/>
<rect x="1801.46" y="955.35" width="13.14" height="13.14" fill="#859fec"/>
<rect x="1840.88" y="955.35" width="13.14" height="13.14" fill="#7693e9"/>
<rect x="1880.3" y="955.35" width="13.14" height="13.14" fill="#7d98ea"/>
<rect x="1315.28" y="968.5" width="13.14" height="13.14" fill="#829ceb"/>
<rect x="1341.56" y="968.5" width="13.14" height="13.14" fill="#859fec"/>
<rect x="1551.8" y="968.5" width="13.14" height="13.14" fill="#8aa3ed"/>
<rect x="1578.08" y="968.5" width="13.14" height="13.14" fill="#7f9aeb"/>
<rect x="1630.64" y="968.5" width="13.14" height="13.14" fill="#718fe9"/>
<rect x="1696.34" y="968.5" width="26.28" height="13.14" fill="#829ceb"/>
<rect x="1735.76" y="968.5" width="13.14" height="13.14" fill="#7a96ea"/>
<rect x="1827.74" y="968.5" width="13.14" height="13.14" fill="#6f8de8"/>
<rect x="1854.02" y="968.5" width="13.14" height="13.14" fill="#93aaee"/>
<rect x="1880.3" y="968.5" width="13.14" height="13.14" fill="#7a96ea"/>
<rect x="1380.98" y="981.64" width="13.14" height="13.14" fill="#93aaee"/>
<rect x="1433.54" y="981.64" width="26.28" height="13.14" fill="#9db2f0"/>
<rect x="1459.82" y="981.64" width="13.14" height="13.14" fill="#7693e9"/>
<rect x="1486.1" y="981.64" width="13.14" height="13.14" fill="#7a96ea"/>
<rect x="1512.38" y="981.64" width="13.14" height="13.14" fill="#93aaee"/>
<rect x="1762.04" y="981.64" width="13.14" height="13.14" fill="#afc0f2"/>
<rect x="1289" y="994.78" width="13.14" height="13.14" fill="#f2c4c4"/>
<rect x="1302.14" y="994.78" width="13.14" height="13.14" fill="#bccaf4"/>
<rect x="1341.56" y="994.78" width="13.14" height="13.14" fill="#7f9aeb"/>
<rect x="1538.66" y="994.78" width="13.14" height="13.14" fill="#a0b4f0"/>
<rect x="1722.62" y="994.78" width="13.14" height="13.14" fill="#f3c8c8"/>
<rect x="1775.18" y="994.78" width="13.14" height="13.14" fill="#718fe9"/>
<rect x="1854.02" y="994.78" width="13.14" height="13.14" fill="#6f8de8"/>
<rect x="1446.68" y="1007.93" width="13.14" height="13.14" fill="#7693e9"/>
<rect x="1512.38" y="1007.93" width="13.14" height="13.14" fill="#7693e9"/>
<rect x="1670.06" y="1007.93" width="13.14" height="13.14" fill="#9db2f0"/>
<rect x="1748.9" y="1007.93" width="13.14" height="13.14" fill="#7693e9"/>
<rect x="1289" y="1021.07" width="13.14" height="13.14" fill="#8fa7ed"/>
<rect x="1302.14" y="1021.07" width="13.14" height="13.14" fill="#829ceb"/>
<rect x="1315.28" y="1021.07" width="26.28" height="13.14" fill="#afc0f2"/>
<rect x="1341.56" y="1021.07" width="13.14" height="13.14" fill="#7a96ea"/>
<rect x="1354.7" y="1021.07" width="13.14" height="13.14" fill="#9db2f0"/>
<rect x="1380.98" y="1021.07" width="13.14" height="13.14" fill="#a8baf1"/>
<rect x="1394.12" y="1021.07" width="13.14" height="13.14" fill="#7693e9"/>
<rect x="1433.54" y="1021.07" width="13.14" height="13.14" fill="#718fe9"/>
<rect x="1446.68" y="1021.07" width="13.14" height="13.14" fill="#7f9aeb"/>
<rect x="1472.96" y="1021.07" width="13.14" height="13.14" fill="#7d98ea"/>
<rect x="1486.1" y="1021.07" width="13.14" height="13.14" fill="#93aaee"/>
<rect x="1499.24" y="1021.07" width="13.14" height="13.14" fill="#9db2f0"/>
<rect x="1512.38" y="1021.07" width="13.14" height="13.14" fill="#7a96ea"/>
<rect x="1525.52" y="1021.07" width="13.14" height="13.14" fill="#9db2f0"/>
<rect x="1564.94" y="1021.07" width="13.14" height="13.14" fill="#93aaee"/>
<rect x="1578.08" y="1021.07" width="13.14" height="13.14" fill="#c0cdf5"/>
<rect x="1591.22" y="1021.07" width="13.14" height="13.14" fill="#7a96ea"/>
<rect x="1604.36" y="1021.07" width="13.14" height="13.14" fill="#718fe9"/>
<rect x="1617.5" y="1021.07" width="13.14" height="13.14" fill="#8aa3ed"/>
<rect x="1630.64" y="1021.07" width="13.14" height="13.14" fill="#7d98ea"/>
<rect x="1670.06" y="1021.07" width="13.14" height="13.14" fill="#a8baf1"/>
<rect x="1683.2" y="1021.07" width="13.14" height="13.14" fill="#93aaee"/>
<rect x="1722.62" y="1021.07" width="13.14" height="13.14" fill="#829ceb"/>
<rect x="1735.76" y="1021.07" width="13.14" height="13.14" fill="#7a96ea"/>
<rect x="1748.9" y="1021.07" width="13.14" height="13.14" fill="#bccaf4"/>
<rect x="1762.04" y="1021.07" width="13.14" height="13.14" fill="#8aa3ed"/>
<rect x="1788.32" y="1021.07" width="13.14" height="13.14" fill="#8aa3ed"/>
<rect x="1801.46" y="1021.07" width="13.14" height="13.14" fill="#718fe9"/>
<rect x="1814.6" y="1021.07" width="26.28" height="13.14" fill="#a0b4f0"/>
<rect x="1840.88" y="1021.07" width="13.14" height="13.14" fill="#a8baf1"/>
<rect x="1854.02" y="1021.07" width="13.14" height="13.14" fill="#7a96ea"/>
<rect x="1867.16" y="1021.07" width="26.28" height="13.14" fill="#859fec"/>
<rect x="1289" y="1034.21" width="13.14" height="13.14" fill="#7a96ea"/>
<rect x="1302.14" y="1034.21" width="13.14" height="13.14" fill="#8aa3ed"/>
<rect x="1407.26" y="1034.21" width="13.14" height="13.14" fill="#7d98ea"/>
<rect x="1420.4" y="1034.21" width="13.14" height="13.14" fill="#7a96ea"/>
<rect x="1538.66" y="1034.21" width="13.14" height="13.14" fill="#829ceb"/>
<rect x="1617.5" y="1034.21" width="13.14" height="13.14" fill="#8aa3ed"/>
<rect x="1709.48" y="1034.21" width="13.14" height="13.14" fill="#829ceb"/>
<rect x="1722.62" y="1034.21" width="13.14" height="13.14" fill="#8aa3ed"/>
<rect x="1788.32" y="1034.21" width="13.14" height="13.14" fill="#7f9aeb"/>
<rect x="1722.62" y="1047.35" width="13.14" height="13.14" fill="#829ceb"/>
<rect x="1328.42" y="1060.5" width="13.14" height="13.14" fill="#718fe9"/>
<rect x="1341.56" y="1073.64" width="13.14" height="13.14" fill="#7693e9"/>
<rect x="1525.52" y="1073.64" width="13.14" height="13.14" fill="#7693e9"/>
<rect x="1538.66" y="1073.64" width="13.14" height="13.14" fill="#7d98ea"/>
<rect x="1564.94" y="1073.64" width="13.14" height="13.14" fill="#b3c3f3"/>
<rect x="1591.22" y="1073.64" width="13.14" height="13.14" fill="#7a96ea"/>
<rect x="1630.64" y="1073.64" width="13.14" height="13.14" fill="#7693e9"/>
<rect x="1656.92" y="1073.64" width="13.14" height="13.14" fill="#9db2f0"/>
<rect x="1696.34" y="1073.64" width="13.14" height="13.14" fill="#7693e9"/>
<rect x="1748.9" y="1073.64" width="13.14" height="13.14" fill="#7693e9"/>
<rect x="1827.74" y="1073.64" width="13.14" height="13.14" fill="#e4eafb"/>
<rect x="1840.88" y="1073.64" width="13.14" height="13.14" fill="#829ceb"/>
<rect x="1289" y="1086.78" width="13.14" height="13.14" fill="#9db2f0"/>
<rect x="1302.14" y="1086.78" width="13.14" height="13.14" fill="#859fec"/>
<rect x="1354.7" y="1086.78" width="13.14" height="13.14" fill="#7693e9"/>
<rect x="1446.68" y="1086.78" width="13.14" height="13.14" fill="#a0b4f0"/>
<rect x="1525.52" y="1086.78" width="13.14" height="13.14" fill="#7693e9"/>
<rect x="1538.66" y="1086.78" width="13.14" height="13.14" fill="#98aeef"/>
<rect x="1604.36" y="1086.78" width="13.14" height="13.14" fill="#859fec"/>
<rect x="1630.64" y="1086.78" width="13.14" height="13.14" fill="#cdd8f7"/>
<rect x="1683.2" y="1086.78" width="13.14" height="13.14" fill="#c5d1f6"/>
<rect x="1709.48" y="1086.78" width="13.14" height="13.14" fill="#93aaee"/>
<rect x="1722.62" y="1086.78" width="13.14" height="13.14" fill="#9db2f0"/>
<rect x="1775.18" y="1086.78" width="13.14" height="13.14" fill="#8fa7ed"/>
<rect x="1788.32" y="1086.78" width="13.14" height="13.14" fill="#afc0f2"/>
<rect x="1814.6" y="1086.78" width="13.14" height="13.14" fill="#859fec"/>
<rect x="1840.88" y="1086.78" width="13.14" height="13.14" fill="#a3b6f0"/>
<rect x="1289" y="1099.93" width="13.14" height="13.14" fill="#f0f3fd"/>
<rect x="1354.7" y="1099.93" width="13.14" height="13.14" fill="#e2e8fa"/>
<rect x="1367.84" y="1099.93" width="13.14" height="13.14" fill="#829ceb"/>
<rect x="1394.12" y="1099.93" width="13.14" height="13.14" fill="#e8edfb"/>
<rect x="1499.24" y="1099.93" width="13.14" height="13.14" fill="#dae2f9"/>
<rect x="1538.66" y="1099.93" width="13.14" height="13.14" fill="#eaeefc"/>
<rect x="1617.5" y="1099.93" width="13.14" height="13.14" fill="#eaeefc"/>
<rect x="1630.64" y="1099.93" width="13.14" height="13.14" fill="#dde4fa"/>
<rect x="1643.78" y="1099.93" width="13.14" height="13.14" fill="#e2e8fa"/>
<rect x="1683.2" y="1099.93" width="13.14" height="13.14" fill="#e2e8fa"/>
<rect x="1709.48" y="1099.93" width="13.14" height="13.14" fill="#eaeefc"/>
<rect x="1775.18" y="1099.93" width="13.14" height="13.14" fill="#e8edfb"/>
<rect x="1367.84" y="1113.07" width="13.14" height="13.14" fill="#829ceb"/>
<rect x="1380.98" y="1113.07" width="13.14" height="13.14" fill="#8aa3ed"/>
<rect x="1722.62" y="1113.07" width="13.14" height="13.14" fill="#9db2f0"/>
<rect x="1354.7" y="1126.21" width="13.14" height="13.14" fill="#7a96ea"/>
<rect x="1407.26" y="1126.21" width="39.42" height="13.14" fill="#7d98ea"/>
<rect x="1840.88" y="1126.21" width="13.14" height="13.14" fill="#6f8de8"/>
<rect x="1315.28" y="1139.36" width="13.14" height="13.14" fill="#859fec"/>
<rect x="1328.42" y="1139.36" width="13.14" height="13.14" fill="#718fe9"/>
<rect x="1341.56" y="1139.36" width="13.14" height="13.14" fill="#8fa7ed"/>
<rect x="1354.7" y="1139.36" width="13.14" height="13.14" fill="#7693e9"/>
<rect x="1394.12" y="1139.36" width="13.14" height="13.14" fill="#afc0f2"/>
<rect x="1407.26" y="1139.36" width="26.28" height="13.14" fill="#bccaf4"/>
<rect x="1486.1" y="1139.36" width="13.14" height="13.14" fill="#b3c3f3"/>
<rect x="1499.24" y="1139.36" width="13.14" height="13.14" fill="#8aa3ed"/>
<rect x="1538.66" y="1139.36" width="13.14" height="13.14" fill="#b9c8f4"/>
<rect x="1578.08" y="1139.36" width="13.14" height="13.14" fill="#859fec"/>
<rect x="1604.36" y="1139.36" width="13.14" height="13.14" fill="#7d98ea"/>
<rect x="1643.78" y="1139.36" width="13.14" height="13.14" fill="#859fec"/>
<rect x="1683.2" y="1139.36" width="13.14" height="13.14" fill="#cdd8f7"/>
<rect x="1722.62" y="1139.36" width="13.14" height="13.14" fill="#9db2f0"/>
<rect x="1801.46" y="1139.36" width="13.14" height="13.14" fill="#8aa3ed"/>
<rect x="1840.88" y="1139.36" width="13.14" height="13.14" fill="#c5d1f6"/>
<rect x="1880.3" y="1139.36" width="13.14" height="13.14" fill="#7d98ea"/>
<rect x="1367.84" y="1152.5" width="13.14" height="13.14" fill="#7a96ea"/>
<rect x="1380.98" y="1152.5" width="13.14" height="13.14" fill="#718fe9"/>
<rect x="1433.54" y="1152.5" width="13.14" height="13.14" fill="#718fe9"/>
<rect x="1459.82" y="1152.5" width="13.14" height="13.14" fill="#7693e9"/>
<rect x="1748.9" y="1152.5" width="13.14" height="13.14" fill="#7d98ea"/>
<rect x="1354.7" y="1165.64" width="13.14" height="13.14" fill="#7d98ea"/>
<rect x="1722.62" y="1165.64" width="13.14" height="13.14" fill="#7693e9"/>
<rect x="1788.32" y="1165.64" width="13.14" height="13.14" fill="#7d98ea"/>
<rect x="1407.26" y="1178.78" width="39.42" height="13.14" fill="#7d98ea"/>
<rect x="1459.82" y="1178.78" width="13.14" height="13.14" fill="#7693e9"/>
<rect x="1472.96" y="1178.78" width="13.14" height="13.14" fill="#718fe9"/>
<rect x="1486.1" y="1178.78" width="13.14" height="13.14" fill="#7d98ea"/>
<rect x="1578.08" y="1178.78" width="13.14" height="13.14" fill="#718fe9"/>
<rect x="1722.62" y="1178.78" width="13.14" height="13.14" fill="#7693e9"/>
<rect x="1735.76" y="1178.78" width="13.14" height="13.14" fill="#829ceb"/>
<rect x="1748.9" y="1178.78" width="13.14" height="13.14" fill="#7d98ea"/>
<rect x="1762.04" y="1178.78" width="13.14" height="13.14" fill="#7693e9"/>
<rect x="1840.88" y="1178.78" width="13.14" height="13.14" fill="#718fe9"/>
<rect x="1380.98" y="1191.93" width="13.14" height="13.14" fill="#f4f6fd"/>
<rect x="1722.62" y="1191.93" width="13.14" height="13.14" fill="#7693e9"/>
<rect x="1538.66" y="1205.07" width="13.14" height="13.14" fill="#7693e9"/>
<rect x="1617.5" y="1205.07" width="13.14" height="13.14" fill="#7693e9"/>
<rect x="1630.64" y="1205.07" width="13.14" height="13.14" fill="#8aa3ed"/>
<rect x="1827.74" y="1205.07" width="13.14" height="13.14" fill="#7693e9"/>
<rect x="1289" y="1218.21" width="13.14" height="13.14" fill="#718fe9"/>
<rect x="1302.14" y="1218.21" width="13.14" height="13.14" fill="#7d98ea"/>
<rect x="1328.42" y="1218.21" width="13.14" height="13.14" fill="#7d98ea"/>
<rect x="1341.56" y="1218.21" width="13.14" height="13.14" fill="#8fa7ed"/>
<rect x="1354.7" y="1218.21" width="13.14" height="13.14" fill="#859fec"/>
<rect x="1367.84" y="1218.21" width="13.14" height="13.14" fill="#829ceb"/>
<rect x="1380.98" y="1218.21" width="13.14" height="13.14" fill="#a0b4f0"/>
<rect x="1394.12" y="1218.21" width="13.14" height="13.14" fill="#859fec"/>
<rect x="1407.26" y="1218.21" width="13.14" height="13.14" fill="#829ceb"/>
<rect x="1420.4" y="1218.21" width="13.14" height="13.14" fill="#93aaee"/>
<rect x="1433.54" y="1218.21" width="13.14" height="13.14" fill="#859fec"/>
<rect x="1446.68" y="1218.21" width="26.28" height="13.14" fill="#829ceb"/>
<rect x="1486.1" y="1218.21" width="13.14" height="13.14" fill="#7d98ea"/>
<rect x="1499.24" y="1218.21" width="13.14" height="13.14" fill="#829ceb"/>
<rect x="1525.52" y="1218.21" width="13.14" height="13.14" fill="#829ceb"/>
<rect x="1538.66" y="1218.21" width="13.14" height="13.14" fill="#7d98ea"/>
<rect x="1604.36" y="1218.21" width="13.14" height="13.14" fill="#718fe9"/>
<rect x="1617.5" y="1218.21" width="13.14" height="13.14" fill="#7693e9"/>
<rect x="1683.2" y="1218.21" width="13.14" height="13.14" fill="#829ceb"/>
<rect x="1722.62" y="1218.21" width="13.14" height="13.14" fill="#829ceb"/>
<rect x="1775.18" y="1218.21" width="13.14" height="13.14" fill="#7a96ea"/>
<rect x="1827.74" y="1218.21" width="13.14" height="13.14" fill="#7693e9"/>
<rect x="1840.88" y="1218.21" width="13.14" height="13.14" fill="#7d98ea"/>
<rect x="1289" y="1231.36" width="13.14" height="13.14" fill="#f6d8d8"/>
<rect x="1328.42" y="1231.36" width="13.14" height="13.14" fill="#b9c8f4"/>
<rect x="1354.7" y="1231.36" width="13.14" height="13.14" fill="#e8edfb"/>
<rect x="1433.54" y="1231.36" width="13.14" height="13.14" fill="#e8edfb"/>
<rect x="1525.52" y="1231.36" width="13.14" height="13.14" fill="#f6d8d8"/>
<rect x="1538.66" y="1231.36" width="13.14" height="13.14" fill="#f7dada"/>
<rect x="1551.8" y="1231.36" width="13.14" height="13.14" fill="#faeaea"/>
<rect x="1578.08" y="1231.36" width="13.14" height="13.14" fill="#f6d4d4"/>
<rect x="1591.22" y="1231.36" width="13.14" height="13.14" fill="#f7dada"/>
<rect x="1604.36" y="1231.36" width="13.14" height="13.14" fill="#f6d4d4"/>
<rect x="1617.5" y="1231.36" width="13.14" height="13.14" fill="#f7dcdc"/>
<rect x="1630.64" y="1231.36" width="13.14" height="13.14" fill="#f7dada"/>
<rect x="1643.78" y="1231.36" width="13.14" height="13.14" fill="#f7dcdc"/>
<rect x="1683.2" y="1231.36" width="13.14" height="13.14" fill="#f8e0e0"/>
<rect x="1709.48" y="1231.36" width="26.28" height="13.14" fill="#f7dada"/>
<rect x="1748.9" y="1231.36" width="13.14" height="13.14" fill="#f6d8d8"/>
<rect x="1775.18" y="1231.36" width="13.14" height="13.14" fill="#e4eafb"/>
<rect x="1788.32" y="1231.36" width="13.14" height="13.14" fill="#faeaea"/>
<rect x="1814.6" y="1231.36" width="13.14" height="13.14" fill="#f7dada"/>
<rect x="1827.74" y="1231.36" width="13.14" height="13.14" fill="#8fa7ed"/>
<rect x="1840.88" y="1231.36" width="13.14" height="13.14" fill="#f4cccc"/>
<rect x="1289" y="1244.5" width="13.14" height="13.14" fill="#7d98ea"/>
<rect x="1302.14" y="1244.5" width="26.28" height="13.14" fill="#7a96ea"/>
<rect x="1328.42" y="1244.5" width="13.14" height="13.14" fill="#718fe9"/>
<rect x="1341.56" y="1244.5" width="13.14" height="13.14" fill="#7a96ea"/>
<rect x="1394.12" y="1244.5" width="13.14" height="13.14" fill="#93aaee"/>
<rect x="1420.4" y="1244.5" width="13.14" height="13.14" fill="#718fe9"/>
<rect x="1472.96" y="1244.5" width="13.14" height="13.14" fill="#7a96ea"/>
<rect x="1486.1" y="1244.5" width="13.14" height="13.14" fill="#8aa3ed"/>
<rect x="1525.52" y="1244.5" width="13.14" height="13.14" fill="#829ceb"/>
<rect x="1538.66" y="1244.5" width="13.14" height="13.14" fill="#8fa7ed"/>
<rect x="1578.08" y="1244.5" width="13.14" height="13.14" fill="#7a96ea"/>
<rect x="1591.22" y="1244.5" width="13.14" height="13.14" fill="#7693e9"/>
<rect x="1604.36" y="1244.5" width="13.14" height="13.14" fill="#7d98ea"/>
<rect x="1617.5" y="1244.5" width="13.14" height="13.14" fill="#8aa3ed"/>
<rect x="1630.64" y="1244.5" width="13.14" height="13.14" fill="#718fe9"/>
<rect x="1643.78" y="1244.5" width="13.14" height="13.14" fill="#8aa3ed"/>
<rect x="1683.2" y="1244.5" width="13.14" height="13.14" fill="#7693e9"/>
<rect x="1748.9" y="1244.5" width="13.14" height="13.14" fill="#7693e9"/>
<rect x="1801.46" y="1244.5" width="13.14" height="13.14" fill="#8aa3ed"/>
<rect x="1814.6" y="1244.5" width="13.14" height="13.14" fill="#7d98ea"/>
<rect x="1840.88" y="1244.5" width="13.14" height="13.14" fill="#7a96ea"/>
<rect x="1880.3" y="1244.5" width="13.14" height="13.14" fill="#859fec"/>
<rect x="1289" y="1257.64" width="13.14" height="13.14" fill="#db5c5c"/>
<rect x="1328.42" y="1257.64" width="13.14" height="13.14" fill="#718fe9"/>
<rect x="1354.7" y="1257.64" width="13.14" height="13.14" fill="#efb8b8"/>
<rect x="1538.66" y="1257.64" width="13.14" height="13.14" fill="#93aaee"/>
<rect x="1670.06" y="1257.64" width="13.14" height="13.14" fill="#d33434"/>
<rect x="1709.48" y="1257.64" width="13.14" height="13.14" fill="#de6666"/>
<rect x="1722.62" y="1257.64" width="13.14" height="13.14" fill="#da5656"/>
<rect x="1788.32" y="1257.64" width="13.14" height="13.14" fill="#e38080"/>
<rect x="1328.42" y="1270.79" width="13.14" height="13.14" fill="#98aeef"/>
<rect x="1380.98" y="1270.79" width="13.14" height="13.14" fill="#f4f6fd"/>
<rect x="1617.5" y="1270.79" width="13.14" height="13.14" fill="#e8edfb"/>
<rect x="1564.94" y="1283.93" width="13.14" height="13.14" fill="#9db2f0"/>
<rect x="1604.36" y="1283.93" width="13.14" height="13.14" fill="#7693e9"/>
<rect x="1880.3" y="1283.93" width="13.14" height="13.14" fill="#7f9aeb"/>
</g>
<text x="1896.5" y="32.44" font-size="8.65" class="ss" stroke="#000" stroke-width="0.28">ACOXL</text>
<text x="1896.5" y="45.59" font-size="8.65" class="ss" stroke="#000" stroke-width="0.28">AFAP1</text>
<text x="1896.5" y="58.73" font-size="8.65" class="ss" stroke="#000" stroke-width="0.28">ANKRD29</text>
<text x="1896.5" y="71.87" font-size="8.65" class="ss" stroke="#000" stroke-width="0.28">ASCC2</text>
<text x="1896.5" y="85.01" font-size="8.65" class="ss" stroke="#000" stroke-width="0.28">ATRAID</text>
<text x="1896.5" y="98.16" font-size="8.65" class="ss" stroke="#000" stroke-width="0.28">BCL11A</text>
<text x="1896.5" y="111.3" font-size="8.65" class="ss" stroke="#000" stroke-width="0.28">BCL2L11</text>
<text x="1896.5" y="124.44" font-size="8.65" class="ss" stroke="#000" stroke-width="0.28">C2orf66</text>
<text x="1896.5" y="137.59" font-size="8.65" class="ss" stroke="#000" stroke-width="0.28">C2orf69</text>
<text x="1896.5" y="150.73" font-size="8.65" class="ss" stroke="#000" stroke-width="0.28">C2orf76</text>
<text x="1896.5" y="163.87" font-size="8.65" class="ss" stroke="#000" stroke-width="0.28">CAD</text>
<text x="1896.5" y="177.02" font-size="8.65" class="ss" stroke="#000" stroke-width="0.28">CASP8</text>
<text x="1896.5" y="190.16" font-size="8.65" class="ss" stroke="#000" stroke-width="0.28">CDKL2</text>
<text x="1896.5" y="203.3" font-size="8.65" class="ss" stroke="#000" stroke-width="0.28">CENPE</text>
<text x="1896.5" y="216.44" font-size="8.65" class="ss" stroke="#000" stroke-width="0.28">CEP68</text>
<text x="1896.5" y="229.59" font-size="8.65" class="ss" stroke="#000" stroke-width="0.28">CGREF1</text>
<text x="1896.5" y="242.73" font-size="8.65" class="ss" stroke="#000" stroke-width="0.28">CHEK2</text>
<text x="1896.5" y="255.87" font-size="8.65" class="ss" stroke="#000" stroke-width="0.28">CISD2</text>
<text x="1896.5" y="269.02" font-size="8.65" class="ss" stroke="#000" stroke-width="0.28">COBLL1</text>
<text x="1896.5" y="282.16" font-size="8.65" class="ss" stroke="#000" stroke-width="0.28">CSRNP3</text>
<text x="1896.5" y="295.3" font-size="8.65" class="ss" stroke="#000" stroke-width="0.28">CWH43</text>
<text x="1896.5" y="308.45" font-size="8.65" class="ss" stroke="#000" stroke-width="0.28">CYB5R3</text>
<text x="1896.5" y="321.59" font-size="8.65" class="ss" stroke="#000" stroke-width="0.28">DDX18</text>
<text x="1896.5" y="334.73" font-size="8.65" class="ss" stroke="#000" stroke-width="0.28">DRG1</text>
<text x="1896.5" y="347.87" font-size="8.65" class="ss" stroke="#000" stroke-width="0.28">EHBP1</text>
<text x="1896.5" y="361.02" font-size="8.65" class="ss" stroke="#000" stroke-width="0.28">EIF4ENIF1</text>
<text x="1896.5" y="374.16" font-size="8.65" class="ss" stroke="#000" stroke-width="0.28">FGFR3</text>
<text x="1896.5" y="387.3" font-size="8.65" class="ss" stroke="#000" stroke-width="0.28">FIGN</text>
<text x="1896.5" y="400.45" font-size="8.65" class="ss" stroke="#000" stroke-width="0.28">FREM3</text>
<text x="1896.5" y="413.59" font-size="8.65" class="ss" stroke="#000" stroke-width="0.28">FRYL</text>
<text x="1896.5" y="426.73" font-size="8.65" class="ss" stroke="#000" stroke-width="0.28">G3BP2</text>
<text x="1896.5" y="439.88" font-size="8.65" class="ss" stroke="#000" stroke-width="0.28">GALNT3</text>
<text x="1896.5" y="453.02" font-size="8.65" class="ss" stroke="#000" stroke-width="0.28">GCKR</text>
<text x="1896.5" y="466.16" font-size="8.65" class="ss" stroke="#000" stroke-width="0.28">GPN1</text>
<text x="1896.5" y="479.3" font-size="8.65" class="ss" stroke="#000" stroke-width="0.28">GRB14</text>
<text x="1896.5" y="492.45" font-size="8.65" class="ss" stroke="#000" stroke-width="0.28">GYPE</text>
<text x="1896.5" y="505.59" font-size="8.65" class="ss" stroke="#000" stroke-width="0.28">HHIP</text>
<text x="1896.5" y="518.73" font-size="8.65" class="ss" stroke="#000" stroke-width="0.28">HORMAD2</text>
<text x="1896.5" y="531.88" font-size="8.65" class="ss" stroke="#000" stroke-width="0.28">IFT172</text>
<text x="1896.5" y="545.02" font-size="8.65" class="ss" stroke="#000" stroke-width="0.28">IL1A</text>
<text x="1896.5" y="558.16" font-size="8.65" class="ss" stroke="#000" stroke-width="0.28">IL1RN</text>
<text x="1896.5" y="571.31" font-size="8.65" class="ss" stroke="#000" stroke-width="0.28">INHBB</text>
<text x="1896.5" y="584.45" font-size="8.65" class="ss" stroke="#000" stroke-width="0.28">INPP4B</text>
<text x="1896.5" y="597.59" font-size="8.65" class="ss" stroke="#000" stroke-width="0.28">ITGB6</text>
<text x="1896.5" y="610.73" font-size="8.65" class="ss" stroke="#000" stroke-width="0.28">KRTCAP3</text>
<text x="1896.5" y="623.88" font-size="8.65" class="ss" stroke="#000" stroke-width="0.28">LIMK2</text>
<text x="1896.5" y="637.02" font-size="8.65" class="ss" stroke="#000" stroke-width="0.28">LRP1B</text>
<text x="1896.5" y="650.16" font-size="8.65" class="ss" stroke="#000" stroke-width="0.28">MANBA</text>
<text x="1896.5" y="663.31" font-size="8.65" class="ss" stroke="#000" stroke-width="0.28">MDH1</text>
<text x="1896.5" y="676.45" font-size="8.65" class="ss" stroke="#000" stroke-width="0.28">MTMR3</text>
<text x="1896.5" y="689.59" font-size="8.65" class="ss" stroke="#000" stroke-width="0.28">NDC80</text>
<text x="1896.5" y="702.74" font-size="8.65" class="ss" stroke="#000" stroke-width="0.28">NFKB1</text>
<text x="1896.5" y="715.88" font-size="8.65" class="ss" stroke="#000" stroke-width="0.28">NMU</text>
<text x="1896.5" y="729.02" font-size="8.65" class="ss" stroke="#000" stroke-width="0.28">NPC1</text>
<text x="1896.5" y="742.16" font-size="8.65" class="ss" stroke="#000" stroke-width="0.28">NRBP1</text>
<text x="1896.5" y="755.31" font-size="8.65" class="ss" stroke="#000" stroke-width="0.28">OTX1</text>
<text x="1896.5" y="768.45" font-size="8.65" class="ss" stroke="#000" stroke-width="0.28">PACSIN2</text>
<text x="1896.5" y="781.59" font-size="8.65" class="ss" stroke="#000" stroke-width="0.28">PAPOLG</text>
<text x="1896.5" y="794.74" font-size="8.65" class="ss" stroke="#000" stroke-width="0.28">PATZ1</text>
<text x="1896.5" y="807.88" font-size="8.65" class="ss" stroke="#000" stroke-width="0.28">PAX8</text>
<text x="1896.5" y="821.02" font-size="8.65" class="ss" stroke="#000" stroke-width="0.28">PDGFC</text>
<text x="1896.5" y="834.17" font-size="8.65" class="ss" stroke="#000" stroke-width="0.28">PEX13</text>
<text x="1896.5" y="847.31" font-size="8.65" class="ss" stroke="#000" stroke-width="0.28">PIK3IP1</text>
<text x="1896.5" y="860.45" font-size="8.65" class="ss" stroke="#000" stroke-width="0.28">PIM3</text>
<text x="1896.5" y="873.59" font-size="8.65" class="ss" stroke="#000" stroke-width="0.28">PLA2R1</text>
<text x="1896.5" y="886.74" font-size="8.65" class="ss" stroke="#000" stroke-width="0.28">PLEKHH2</text>
<text x="1896.5" y="899.88" font-size="8.65" class="ss" stroke="#000" stroke-width="0.28">POLDIP3</text>
<text x="1896.5" y="913.02" font-size="8.65" class="ss" stroke="#000" stroke-width="0.28">PPM1G</text>
<text x="1896.5" y="926.17" font-size="8.65" class="ss" stroke="#000" stroke-width="0.28">RAB1A</text>
<text x="1896.5" y="939.31" font-size="8.65" class="ss" stroke="#000" stroke-width="0.28">RAB27B</text>
<text x="1896.5" y="952.45" font-size="8.65" class="ss" stroke="#000" stroke-width="0.28">RIF1</text>
<text x="1896.5" y="965.6" font-size="8.65" class="ss" stroke="#000" stroke-width="0.28">RNF185</text>
<text x="1896.5" y="978.74" font-size="8.65" class="ss" stroke="#000" stroke-width="0.28">RRP7A</text>
<text x="1896.5" y="991.88" font-size="8.65" class="ss" stroke="#000" stroke-width="0.28">SCD5</text>
<text x="1896.5" y="1005.02" font-size="8.65" class="ss" stroke="#000" stroke-width="0.28">SCN2A</text>
<text x="1896.5" y="1018.17" font-size="8.65" class="ss" stroke="#000" stroke-width="0.28">SCN9A</text>
<text x="1896.5" y="1031.31" font-size="8.65" class="ss" stroke="#000" stroke-width="0.28">SFI1</text>
<text x="1896.5" y="1044.45" font-size="8.65" class="ss" stroke="#000" stroke-width="0.28">SH3D19</text>
<text x="1896.5" y="1057.6" font-size="8.65" class="ss" stroke="#000" stroke-width="0.28">SLAIN2</text>
<text x="1896.5" y="1070.74" font-size="8.65" class="ss" stroke="#000" stroke-width="0.28">SLC35E4</text>
<text x="1896.5" y="1083.88" font-size="8.65" class="ss" stroke="#000" stroke-width="0.28">SLC38A11</text>
<text x="1896.5" y="1097.03" font-size="8.65" class="ss" stroke="#000" stroke-width="0.28">SLC4A1AP</text>
<text x="1896.5" y="1110.17" font-size="8.65" class="ss" stroke="#000" stroke-width="0.28">SNX17</text>
<text x="1896.5" y="1123.31" font-size="8.65" class="ss" stroke="#000" stroke-width="0.28">SP5</text>
<text x="1896.5" y="1136.45" font-size="8.65" class="ss" stroke="#000" stroke-width="0.28">SPHKAP</text>
<text x="1896.5" y="1149.6" font-size="8.65" class="ss" stroke="#000" stroke-width="0.28">STEAP3</text>
<text x="1896.5" y="1162.74" font-size="8.65" class="ss" stroke="#000" stroke-width="0.28">TACC3</text>
<text x="1896.5" y="1175.88" font-size="8.65" class="ss" stroke="#000" stroke-width="0.28">TLK1</text>
<text x="1896.5" y="1189.03" font-size="8.65" class="ss" stroke="#000" stroke-width="0.28">TMEM129</text>
<text x="1896.5" y="1202.17" font-size="8.65" class="ss" stroke="#000" stroke-width="0.28">TRIM54</text>
<text x="1896.5" y="1215.31" font-size="8.65" class="ss" stroke="#000" stroke-width="0.28">TTC39C</text>
<text x="1896.5" y="1228.46" font-size="8.65" class="ss" stroke="#000" stroke-width="0.28">TYW5</text>
<text x="1896.5" y="1241.6" font-size="8.65" class="ss" stroke="#000" stroke-width="0.28">UBE2D3</text>
<text x="1896.5" y="1254.74" font-size="8.65" class="ss" stroke="#000" stroke-width="0.28">WDPCP</text>
<text x="1896.5" y="1267.88" font-size="8.65" class="ss" stroke="#000" stroke-width="0.28">ZFP36L2</text>
<text x="1896.5" y="1281.03" font-size="8.65" class="ss" stroke="#000" stroke-width="0.28">ZNF513</text>
<text x="1896.5" y="1294.17" font-size="8.65" class="ss" stroke="#000" stroke-width="0.28">ZNF532</text>
<text x="1299.07" y="1303.77" font-size="7" class="ss" text-anchor="end" transform="rotate(-45 1299.07 1303.77)" stroke="#000" stroke-width="0.28">Adipose_Subcutaneous</text>
<text x="1312.21" y="1303.77" font-size="7" class="ss" text-anchor="end" transform="rotate(-45 1312.21 1303.77)" stroke="#000" stroke-width="0.28">Adipose_Visceral_Omentum</text>
<text x="1325.35" y="1303.77" font-size="7" class="ss" text-anchor="end" transform="rotate(-45 1325.35 1303.77)" stroke="#000" stroke-width="0.28">Adrenal_Gland</text>
<text x="1338.49" y="1303.77" font-size="7" class="ss" text-anchor="end" transform="rotate(-45 1338.49 1303.77)" stroke="#000" stroke-width="0.28">Artery_Aorta</text>
<text x="1351.63" y="1303.77" font-size="7" class="ss" text-anchor="end" transform="rotate(-45 1351.63 1303.77)" stroke="#000" stroke-width="0.28">Artery_Coronary</text>
<text x="1364.77" y="1303.77" font-size="7" class="ss" text-anchor="end" transform="rotate(-45 1364.77 1303.77)" stroke="#000" stroke-width="0.28">Artery_Tibial</text>
<text x="1377.91" y="1303.77" font-size="7" class="ss" text-anchor="end" transform="rotate(-45 1377.91 1303.77)" stroke="#000" stroke-width="0.28">Brain_Amygdala</text>
<text x="1391.05" y="1303.77" font-size="7" class="ss" text-anchor="end" transform="rotate(-45 1391.05 1303.77)" stroke="#000" stroke-width="0.28">Brain_Anterior_cingulate_cortex_BA24</text>
<text x="1404.19" y="1303.77" font-size="7" class="ss" text-anchor="end" transform="rotate(-45 1404.19 1303.77)" stroke="#000" stroke-width="0.28">Brain_Caudate_basal_ganglia</text>
<text x="1417.33" y="1303.77" font-size="7" class="ss" text-anchor="end" transform="rotate(-45 1417.33 1303.77)" stroke="#000" stroke-width="0.28">Brain_Cerebellar_Hemisphere</text>
<text x="1430.47" y="1303.77" font-size="7" class="ss" text-anchor="end" transform="rotate(-45 1430.47 1303.77)" stroke="#000" stroke-width="0.28">Brain_Cerebellum</text>
<text x="1443.61" y="1303.77" font-size="7" class="ss" text-anchor="end" transform="rotate(-45 1443.61 1303.77)" stroke="#000" stroke-width="0.28">Brain_Cortex</text>
<text x="1456.75" y="1303.77" font-size="7" class="ss" text-anchor="end" transform="rotate(-45 1456.75 1303.77)" stroke="#000" stroke-width="0.28">Brain_Frontal_Cortex_BA9</text>
<text x="1469.89" y="1303.77" font-size="7" class="ss" text-anchor="end" transform="rotate(-45 1469.89 1303.77)" stroke="#000" stroke-width="0.28">Brain_Hippocampus</text>
<text x="1483.03" y="1303.77" font-size="7" class="ss" text-anchor="end" transform="rotate(-45 1483.03 1303.77)" stroke="#000" stroke-width="0.28">Brain_Hypothalamus</text>
<text x="1496.17" y="1303.77" font-size="7" class="ss" text-anchor="end" transform="rotate(-45 1496.17 1303.77)" stroke="#000" stroke-width="0.28">Brain_Nucleus_accumbens_basal_ganglia</text>
<text x="1509.31" y="1303.77" font-size="7" class="ss" text-anchor="end" transform="rotate(-45 1509.31 1303.77)" stroke="#000" stroke-width="0.28">Brain_Putamen_basal_ganglia</text>
<text x="1522.45" y="1303.77" font-size="7" class="ss" text-anchor="end" transform="rotate(-45 1522.45 1303.77)" stroke="#000" stroke-width="0.28">Brain_Spinal_cord_cervical_c-1</text>
<text x="1535.59" y="1303.77" font-size="7" class="ss" text-anchor="end" transform="rotate(-45 1535.59 1303.77)" stroke="#000" stroke-width="0.28">Breast_Mammary_Tissue</text>
<text x="1548.73" y="1303.77" font-size="7" class="ss" text-anchor="end" transform="rotate(-45 1548.73 1303.77)" stroke="#000" stroke-width="0.28">Cells_Cultured_fibroblasts</text>
<text x="1561.87" y="1303.77" font-size="7" class="ss" text-anchor="end" transform="rotate(-45 1561.87 1303.77)" stroke="#000" stroke-width="0.28">Cells_EBV-transformed_lymphocytes</text>
<text x="1575.01" y="1303.77" font-size="7" class="ss" text-anchor="end" transform="rotate(-45 1575.01 1303.77)" stroke="#000" stroke-width="0.28">Colon_Sigmoid</text>
<text x="1588.15" y="1303.77" font-size="7" class="ss" text-anchor="end" transform="rotate(-45 1588.15 1303.77)" stroke="#000" stroke-width="0.28">Colon_Transverse</text>
<text x="1601.29" y="1303.77" font-size="7" class="ss" text-anchor="end" transform="rotate(-45 1601.29 1303.77)" stroke="#000" stroke-width="0.28">Esophagus_Gastroesophageal_Junction</text>
<text x="1614.43" y="1303.77" font-size="7" class="ss" text-anchor="end" transform="rotate(-45 1614.43 1303.77)" stroke="#000" stroke-width="0.28">Esophagus_Mucosa</text>
<text x="1627.57" y="1303.77" font-size="7" class="ss" text-anchor="end" transform="rotate(-45 1627.57 1303.77)" stroke="#000" stroke-width="0.28">Esophagus_Muscularis</text>
<text x="1640.71" y="1303.77" font-size="7" class="ss" text-anchor="end" transform="rotate(-45 1640.71 1303.77)" stroke="#000" stroke-width="0.28">Heart_Atrial_Appendage</text>
<text x="1653.85" y="1303.77" font-size="7" class="ss" text-anchor="end" transform="rotate(-45 1653.85 1303.77)" stroke="#000" stroke-width="0.28">Heart_Left_Ventricle</text>
<text x="1666.99" y="1303.77" font-size="7" class="ss" text-anchor="end" transform="rotate(-45 1666.99 1303.77)" stroke="#000" stroke-width="0.28">Kidney_Cortex</text>
<text x="1680.13" y="1303.77" font-size="7" class="ss" text-anchor="end" transform="rotate(-45 1680.13 1303.77)" stroke="#000" stroke-width="0.28">Liver</text>
<text x="1693.27" y="1303.77" font-size="7" class="ss" text-anchor="end" transform="rotate(-45 1693.27 1303.77)" stroke="#000" stroke-width="0.28">Lung</text>
<text x="1706.41" y="1303.77" font-size="7" class="ss" text-anchor="end" transform="rotate(-45 1706.41 1303.77)" stroke="#000" stroke-width="0.28">Minor_Salivary_Gland</text>
<text x="1719.55" y="1303.77" font-size="7" class="ss" text-anchor="end" transform="rotate(-45 1719.55 1303.77)" stroke="#000" stroke-width="0.28">Muscle_Skeletal</text>
<text x="1732.69" y="1303.77" font-size="7" class="ss" text-anchor="end" transform="rotate(-45 1732.69 1303.77)" stroke="#000" stroke-width="0.28">Nerve_Tibial</text>
<text x="1745.83" y="1303.77" font-size="7" class="ss" text-anchor="end" transform="rotate(-45 1745.83 1303.77)" stroke="#000" stroke-width="0.28">Ovary</text>
<text x="1758.97" y="1303.77" font-size="7" class="ss" text-anchor="end" transform="rotate(-45 1758.97 1303.77)" stroke="#000" stroke-width="0.28">Pancreas</text>
<text x="1772.11" y="1303.77" font-size="7" class="ss" text-anchor="end" transform="rotate(-45 1772.11 1303.77)" stroke="#000" stroke-width="0.28">Pituitary</text>
<text x="1785.25" y="1303.77" font-size="7" class="ss" text-anchor="end" transform="rotate(-45 1785.25 1303.77)" stroke="#000" stroke-width="0.28">Skin_Not_Sun_Exposed_Suprapubic</text>
<text x="1798.39" y="1303.77" font-size="7" class="ss" text-anchor="end" transform="rotate(-45 1798.39 1303.77)" stroke="#000" stroke-width="0.28">Skin_Sun_Exposed_Lower_leg</text>
<text x="1811.53" y="1303.77" font-size="7" class="ss" text-anchor="end" transform="rotate(-45 1811.53 1303.77)" stroke="#000" stroke-width="0.28">Small_Intestine_Terminal_Ileum</text>
<text x="1824.67" y="1303.77" font-size="7" class="ss" text-anchor="end" transform="rotate(-45 1824.67 1303.77)" stroke="#000" stroke-width="0.28">Spleen</text>
<text x="1837.81" y="1303.77" font-size="7" class="ss" text-anchor="end" transform="rotate(-45 1837.81 1303.77)" stroke="#000" stroke-width="0.28">Stomach</text>
<text x="1850.95" y="1303.77" font-size="7" class="ss" text-anchor="end" transform="rotate(-45 1850.95 1303.77)" stroke="#000" stroke-width="0.28">Thyroid</text>
<text x="1864.09" y="1303.77" font-size="7" class="ss" text-anchor="end" transform="rotate(-45 1864.09 1303.77)" stroke="#000" stroke-width="0.28">Uterus</text>
<text x="1877.23" y="1303.77" font-size="7" class="ss" text-anchor="end" transform="rotate(-45 1877.23 1303.77)" stroke="#000" stroke-width="0.28">Vagina</text>
<text x="1890.37" y="1303.77" font-size="7" class="ss" text-anchor="end" transform="rotate(-45 1890.37 1303.77)" stroke="#000" stroke-width="0.28">Whole_Blood</text>
<text x="1897.1" y="13.3" font-size="13.3" class="sf" font-weight="bold" textLength="100.3" lengthAdjust="spacingAndGlyphs">-log10 (TWAS.P)</text>
<defs><linearGradient id="gD" x1="0" y1="0" x2="0" y2="1"><stop offset="0" stop-color="#d02828"/><stop offset="0.5" stop-color="#fff"/><stop offset="1" stop-color="#4169e1"/></linearGradient></defs>
<rect x="1946.9" y="22.2" width="8.3" height="131.8" fill="url(#gD)"/>
<text x="1959.4" y="157.07" font-size="8.65" class="ss">0</text>
<text x="1959.4" y="122.48" font-size="8.65" class="ss">5</text>
<text x="1959.4" y="87.88" font-size="8.65" class="ss">10</text>
<text x="1959.4" y="53.29" font-size="8.65" class="ss">15</text>
</g>
<g id="panelE">
<text x="359.6" y="919.1" font-size="14.4" class="ss" text-anchor="middle">GDM</text>
<text x="694.7" y="919.1" font-size="14.4" class="ss" text-anchor="middle">T2D</text>
<text x="25" y="941" font-size="31" class="sf" font-weight="bold">(E)</text>
<defs><clipPath id="clipL"><circle cx="387.4" cy="1169.3" r="209.1"/></clipPath></defs>
<circle cx="387.4" cy="1169.3" r="209.1" fill="#ecaef4"/>
<circle cx="666.3" cy="1169.3" r="209.2" fill="#b0e6ea"/>
<circle cx="666.3" cy="1169.3" r="209.2" fill="#a4b6e2" clip-path="url(#clipL)"/>
<circle cx="387.4" cy="1169.3" r="209.1" fill="none" stroke="#000" stroke-width="1.8"/>
<circle cx="666.3" cy="1169.3" r="209.2" fill="none" stroke="#000" stroke-width="1.8"/>
<text x="346.2" y="1164.6" font-size="18.2" class="sf" font-weight="bold" font-style="italic" text-anchor="middle">ADCY3</text>
<text x="491" y="1121.8" font-size="18" class="sf" font-weight="bold" font-style="italic">COBLL1</text>
<text x="491" y="1148.23" font-size="18" class="sf" font-weight="bold" font-style="italic">NRBP1</text>
<text x="491" y="1174.66" font-size="18" class="sf" font-weight="bold" font-style="italic">IFT172</text>
<text x="491" y="1201.09" font-size="18" class="sf" font-weight="bold" font-style="italic">TRIM54</text>
<text x="601.2" y="1010.1" font-size="13.2" class="sf" font-weight="bold" font-style="italic">CEP68 TACC3 MDH1 RAB27B</text>
<text x="601.2" y="1025.81" font-size="13.2" class="sf" font-weight="bold" font-style="italic">CASP8 FGFR3 ZNF532 FRYL RIF1</text>
<text x="601.2" y="1041.51" font-size="13.2" class="sf" font-weight="bold" font-style="italic">NDC80 GCKR CAD DDX18 SLC35E4</text>
<text x="601.2" y="1057.21" font-size="13.2" class="sf" font-weight="bold" font-style="italic">PIK3IP1 PATZ1 POLDIP3 CYB5R3</text>
<text x="601.2" y="1072.92" font-size="13.2" class="sf" font-weight="bold" font-style="italic">PACSIN2 ASCC2 MTMR3 SLAIN2 CWH43</text>
<text x="601.2" y="1088.62" font-size="13.2" class="sf" font-weight="bold" font-style="italic">NMU NFKB1 MANBA UBE2D3 INPP4B</text>
<text x="601.2" y="1104.33" font-size="13.2" class="sf" font-weight="bold" font-style="italic">SH3D19 IL1A STEAP3 ITGB6 SNX17 PPM1G</text>
<text x="601.2" y="1120.04" font-size="13.2" class="sf" font-weight="bold" font-style="italic">GRB14 GALNT3 PAPOLG EHBP1 OTX1</text>
<text x="601.2" y="1135.74" font-size="13.2" class="sf" font-weight="bold" font-style="italic">BCL11A PAX8 SCN2A IL1RN CGREF1 RAB1A</text>
<text x="601.2" y="1151.44" font-size="13.2" class="sf" font-weight="bold" font-style="italic">ATRAID G3BP2 CDKL2 CENPE RNF185 NPC1</text>
<text x="601.2" y="1167.15" font-size="13.2" class="sf" font-weight="bold" font-style="italic">WDPCP SCD5 CISD2 PDGFC ZFP36L2</text>
<text x="601.2" y="1182.86" font-size="13.2" class="sf" font-weight="bold" font-style="italic">PLEKHH2 ACOXL BCL2L11 PLA2R1 SPHKAP</text>
<text x="601.2" y="1198.56" font-size="13.2" class="sf" font-weight="bold" font-style="italic">ANKRD29 KRTCAP3 PEX13 TYW5 INHBB</text>
<text x="601.2" y="1214.27" font-size="13.2" class="sf" font-weight="bold" font-style="italic">ZNF513 SLC4A1AP HHIP TTC39C LRP1B</text>
<text x="601.2" y="1229.97" font-size="13.2" class="sf" font-weight="bold" font-style="italic">TMEM129 SCN9A SLC38A11 HORMAD2</text>
<text x="601.2" y="1245.67" font-size="13.2" class="sf" font-weight="bold" font-style="italic">C2orf69 CSRNP3 FIGN LIMK2 FREM3</text>
<text x="601.2" y="1261.38" font-size="13.2" class="sf" font-weight="bold" font-style="italic">CHEK2 EIF4ENIF1 DRG1 C2orf76 C2orf66</text>
<text x="601.2" y="1277.09" font-size="13.2" class="sf" font-weight="bold" font-style="italic">RRP7A AFAP1 GYPE SFI1 PIM3 GPN1</text>
<text x="601.2" y="1292.79" font-size="13.2" class="sf" font-weight="bold" font-style="italic">TLK1 SP5</text>
</g>
</svg>
</body>
</html>
